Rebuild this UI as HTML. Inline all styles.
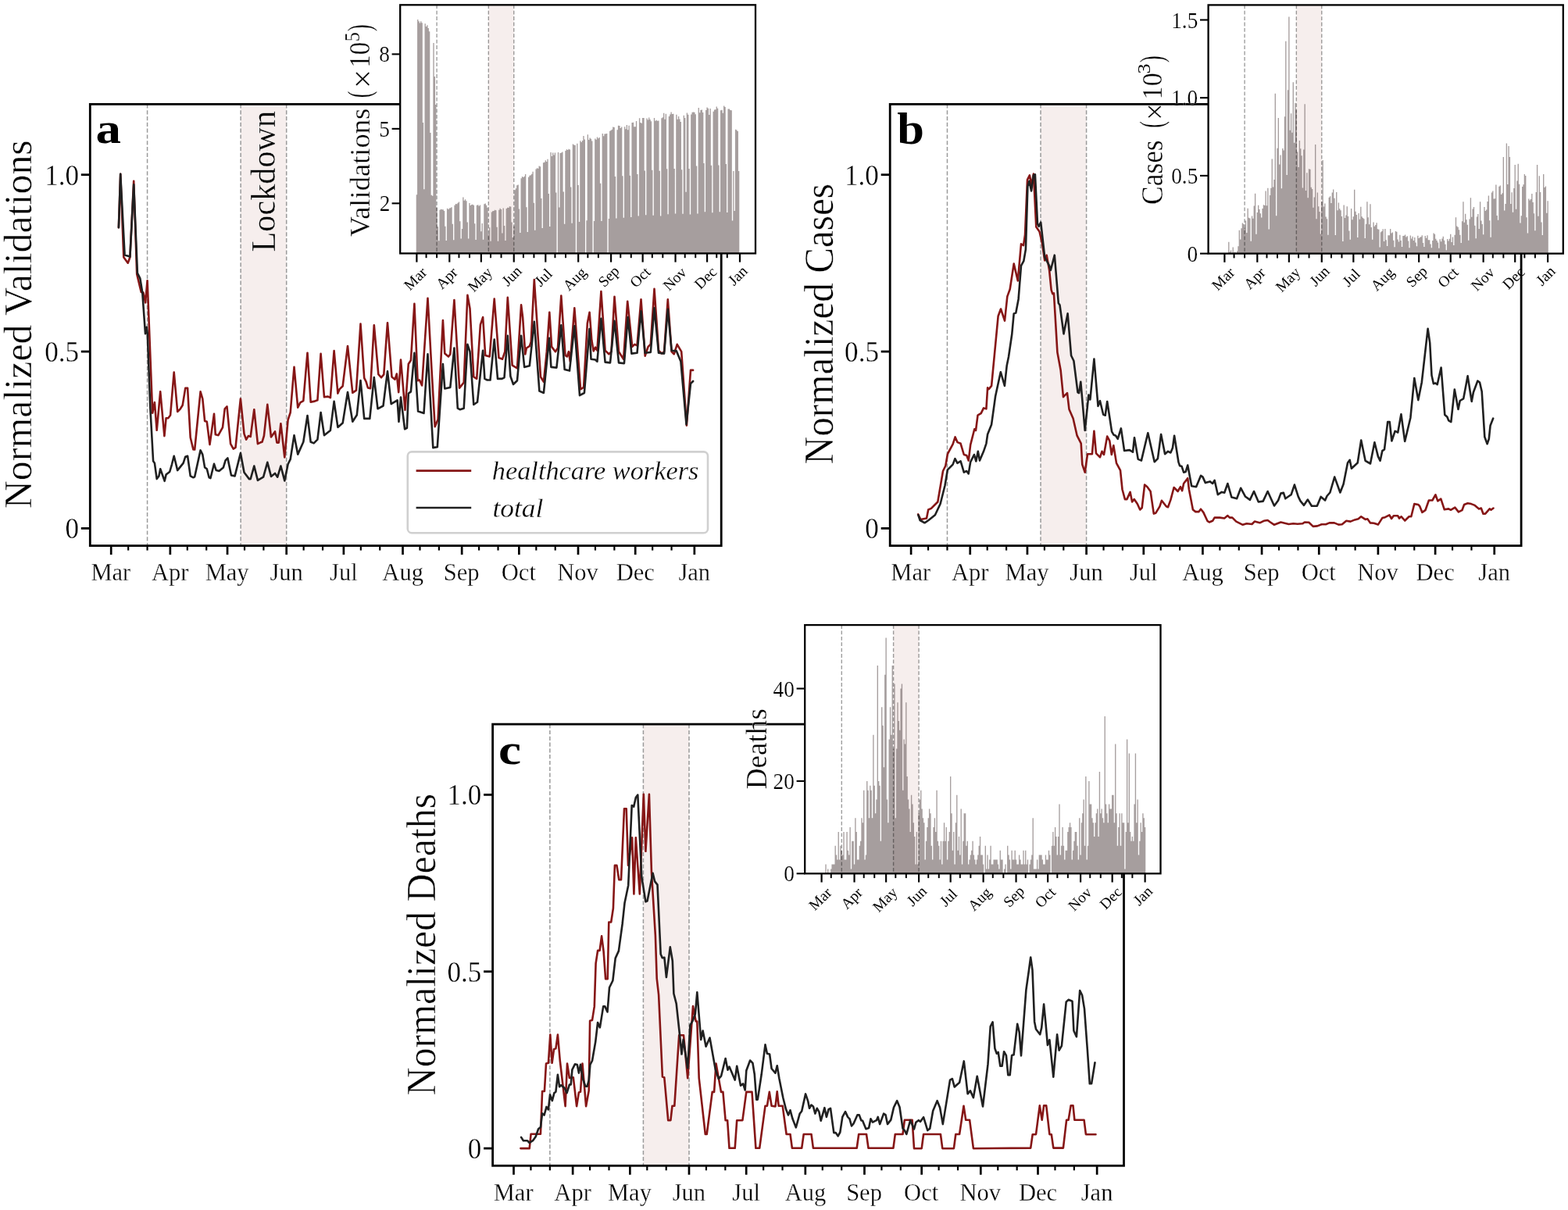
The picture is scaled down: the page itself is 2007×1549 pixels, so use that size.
<!DOCTYPE html>
<html><head><meta charset="utf-8"><title>Figure</title>
<style>
html,body{margin:0;padding:0;background:#fff;}
svg{display:block;}
text{font-family:"Liberation Serif","DejaVu Serif",serif;}
</style></head><body>
<svg width="2007" height="1549" viewBox="0 0 2007 1549">
<rect width="2007" height="1549" fill="#fff"/>
<rect x="308.12" y="133.40" width="58.56" height="565.20" fill="#f6eeed"/>
<line x1="188.56" y1="133.40" x2="188.56" y2="698.60" stroke="#9a9a9a" stroke-width="1.5" stroke-dasharray="5.2,2.6"/>
<line x1="308.12" y1="133.40" x2="308.12" y2="698.60" stroke="#9a9a9a" stroke-width="1.5" stroke-dasharray="5.2,2.6"/>
<line x1="366.68" y1="133.40" x2="366.68" y2="698.60" stroke="#9a9a9a" stroke-width="1.5" stroke-dasharray="5.2,2.6"/>
<text stroke="#fff" stroke-width="0.32" transform="translate(351.55,322.47) rotate(-90) scale(0.9430,1)" font-size="44.82" fill="#000">Lockdown</text>
<line x1="142.20" y1="698.60" x2="142.20" y2="710.10" stroke="#000" stroke-width="2.7"/>
<line x1="217.84" y1="698.60" x2="217.84" y2="710.10" stroke="#000" stroke-width="2.7"/>
<line x1="291.04" y1="698.60" x2="291.04" y2="710.10" stroke="#000" stroke-width="2.7"/>
<line x1="366.68" y1="698.60" x2="366.68" y2="710.10" stroke="#000" stroke-width="2.7"/>
<line x1="439.88" y1="698.60" x2="439.88" y2="710.10" stroke="#000" stroke-width="2.7"/>
<line x1="515.52" y1="698.60" x2="515.52" y2="710.10" stroke="#000" stroke-width="2.7"/>
<line x1="591.16" y1="698.60" x2="591.16" y2="710.10" stroke="#000" stroke-width="2.7"/>
<line x1="664.36" y1="698.60" x2="664.36" y2="710.10" stroke="#000" stroke-width="2.7"/>
<line x1="740.00" y1="698.60" x2="740.00" y2="710.10" stroke="#000" stroke-width="2.7"/>
<line x1="813.20" y1="698.60" x2="813.20" y2="710.10" stroke="#000" stroke-width="2.7"/>
<line x1="888.84" y1="698.60" x2="888.84" y2="710.10" stroke="#000" stroke-width="2.7"/>
<line x1="164.16" y1="698.60" x2="164.16" y2="704.60" stroke="#000" stroke-width="2.2"/>
<line x1="188.56" y1="698.60" x2="188.56" y2="704.60" stroke="#000" stroke-width="2.2"/>
<line x1="239.80" y1="698.60" x2="239.80" y2="704.60" stroke="#000" stroke-width="2.2"/>
<line x1="264.20" y1="698.60" x2="264.20" y2="704.60" stroke="#000" stroke-width="2.2"/>
<line x1="313.00" y1="698.60" x2="313.00" y2="704.60" stroke="#000" stroke-width="2.2"/>
<line x1="337.40" y1="698.60" x2="337.40" y2="704.60" stroke="#000" stroke-width="2.2"/>
<line x1="388.64" y1="698.60" x2="388.64" y2="704.60" stroke="#000" stroke-width="2.2"/>
<line x1="413.04" y1="698.60" x2="413.04" y2="704.60" stroke="#000" stroke-width="2.2"/>
<line x1="461.84" y1="698.60" x2="461.84" y2="704.60" stroke="#000" stroke-width="2.2"/>
<line x1="486.24" y1="698.60" x2="486.24" y2="704.60" stroke="#000" stroke-width="2.2"/>
<line x1="537.48" y1="698.60" x2="537.48" y2="704.60" stroke="#000" stroke-width="2.2"/>
<line x1="561.88" y1="698.60" x2="561.88" y2="704.60" stroke="#000" stroke-width="2.2"/>
<line x1="613.12" y1="698.60" x2="613.12" y2="704.60" stroke="#000" stroke-width="2.2"/>
<line x1="637.52" y1="698.60" x2="637.52" y2="704.60" stroke="#000" stroke-width="2.2"/>
<line x1="686.32" y1="698.60" x2="686.32" y2="704.60" stroke="#000" stroke-width="2.2"/>
<line x1="710.72" y1="698.60" x2="710.72" y2="704.60" stroke="#000" stroke-width="2.2"/>
<line x1="761.96" y1="698.60" x2="761.96" y2="704.60" stroke="#000" stroke-width="2.2"/>
<line x1="786.36" y1="698.60" x2="786.36" y2="704.60" stroke="#000" stroke-width="2.2"/>
<line x1="835.16" y1="698.60" x2="835.16" y2="704.60" stroke="#000" stroke-width="2.2"/>
<line x1="859.56" y1="698.60" x2="859.56" y2="704.60" stroke="#000" stroke-width="2.2"/>
<line x1="103.80" y1="676.40" x2="115.30" y2="676.40" stroke="#000" stroke-width="2.8"/>
<line x1="103.80" y1="450.05" x2="115.30" y2="450.05" stroke="#000" stroke-width="2.8"/>
<line x1="103.80" y1="223.70" x2="115.30" y2="223.70" stroke="#000" stroke-width="2.8"/>
<text stroke="#fff" stroke-width="0.32" transform="translate(116.43,742.90) scale(0.9525,1)" font-size="32.06">Mar</text>
<text stroke="#fff" stroke-width="0.32" transform="translate(194.06,742.90) scale(0.9525,1)" font-size="32.06">Apr</text>
<text stroke="#fff" stroke-width="0.32" transform="translate(262.68,742.90) scale(0.9525,1)" font-size="32.06">May</text>
<text stroke="#fff" stroke-width="0.32" transform="translate(345.38,742.90) scale(0.9525,1)" font-size="32.06">Jun</text>
<text stroke="#fff" stroke-width="0.32" transform="translate(422.05,742.90) scale(0.9525,1)" font-size="32.06">Jul</text>
<text stroke="#fff" stroke-width="0.32" transform="translate(489.37,742.90) scale(0.9525,1)" font-size="32.06">Aug</text>
<text stroke="#fff" stroke-width="0.32" transform="translate(567.84,742.90) scale(0.9525,1)" font-size="32.06">Sep</text>
<text stroke="#fff" stroke-width="0.32" transform="translate(641.80,742.90) scale(0.9525,1)" font-size="32.06">Oct</text>
<text stroke="#fff" stroke-width="0.32" transform="translate(713.24,742.90) scale(0.9525,1)" font-size="32.06">Nov</text>
<text stroke="#fff" stroke-width="0.32" transform="translate(788.66,742.90) scale(0.9525,1)" font-size="32.06">Dec</text>
<text stroke="#fff" stroke-width="0.32" transform="translate(868.42,742.90) scale(0.9525,1)" font-size="32.06">Jan</text>
<text stroke="#fff" stroke-width="0.32" transform="translate(83.40,689.20) scale(0.9435,1)" font-size="37.12">0</text>
<text stroke="#fff" stroke-width="0.32" transform="translate(57.22,462.85) scale(0.9435,1)" font-size="37.12">0.5</text>
<text stroke="#fff" stroke-width="0.32" transform="translate(57.14,236.50) scale(0.9435,1)" font-size="37.12">1.0</text>
<text transform="translate(122.49,183.46) scale(1.1995,1)" font-size="54.17" font-weight="bold" fill="#000">a</text>
<text stroke="#fff" stroke-width="0.5" transform="translate(40.25,651.20) rotate(-90) scale(0.9988,1)" font-size="50.00" fill="#000">Normalized Validations</text>
<polyline points="151.9,291.3 154.2,222.9 158.3,329.2 163.7,336.7 166.4,329.2 171.2,231.7 175.2,350.9 180.7,374.0 183.4,374.6 186.1,387.5 188.6,359.2 195.2,528.8 197.9,515.0 200.7,550.8 205.2,501.3 210.4,558.1 212.6,535.2 215.3,535.2 218.1,531.5 222.7,476.5 227.2,527.0 230.9,523.3 233.7,518.7 237.3,496.7 240.1,496.7 243.7,560.0 247.4,575.5 249.2,575.5 256.6,501.3 259.3,510.5 262.1,538.9 264.8,539.8 268.5,569.1 274.0,529.7 275.8,556.3 279.5,557.2 285.0,547.1 287.7,523.3 290.5,520.5 295.1,568.2 298.7,574.6 301.5,572.8 307.9,510.5 312.5,555.4 315.2,562.7 317.9,558.1 320.7,559.0 325.3,524.2 329.9,568.2 333.1,566.6 335.5,565.8 337.9,558.0 342.3,517.8 347.0,559.5 352.0,552.4 354.4,566.6 356.8,566.6 359.4,542.2 364.3,585.5 368.6,537.5 371.7,528.0 376.5,469.8 381.2,521.7 384.3,515.4 388.3,513.1 393.5,451.7 397.7,514.6 401.7,513.9 406.4,512.3 410.6,452.8 415.0,508.3 419.8,507.6 422.9,509.1 427.6,449.0 432.4,503.6 434.7,498.1 438.7,494.2 445.0,443.0 451.3,502.8 456.0,499.7 461.5,414.6 466.2,483.9 468.6,488.7 470.9,496.5 474.1,497.3 478.8,416.2 484.3,479.2 488.1,483.3 491.3,479.4 496.0,413.2 501.5,482.5 505.5,485.7 507.8,478.6 510.2,502.2 513.0,460.5 518.5,525.0 522.8,466.0 525.9,461.3 530.4,388.8 534.6,487.2 537.0,486.5 540.1,493.5 547.5,381.7 552.7,477.0 556.7,546.3 560.6,536.9 566.9,410.1 569.3,452.6 574.0,456.5 576.3,453.4 581.4,384.1 588.1,496.7 593.7,489.6 598.4,377.8 601.5,395.1 606.3,482.5 610.2,484.9 614.9,415.6 618.1,406.1 621.2,455.0 626.7,456.5 632.7,382.5 638.5,458.1 643.1,459.7 646.3,450.2 649.8,380.9 655.7,467.6 662.0,471.5 667.1,390.4 669.1,406.1 672.3,453.4 673.9,445.5 677.8,443.1 679.7,437.6 683.8,358.1 692.0,482.5 695.9,488.8 699.8,450.2 703.3,399.8 706.1,443.9 710.9,450.2 714.0,445.5 718.3,378.6 723.5,455.0 725.8,456.5 727.9,450.2 729.8,462.8 735.3,394.3 743.1,498.3 747.1,495.9 751.8,414.0 754.6,399.8 757.3,435.3 759.7,449.4 762.0,444.7 764.4,448.7 769.4,373.1 774.6,448.7 779.4,453.4 782.5,450.2 786.5,379.7 792.0,450.2 798.1,459.7 803.2,385.7 809.2,443.9 812.3,440.8 815.5,442.4 820.5,383.3 825.7,455.7 829.6,443.9 832.8,440.8 837.5,369.9 843.0,448.7 847.0,452.6 850.1,450.2 854.8,383.3 859.6,450.2 862.7,453.4 866.7,440.8 872.2,450.2 878.9,544.7 884.0,473.9 887.1,473.9" fill="none" stroke="#861616" stroke-width="2.6" stroke-linejoin="round" stroke-linecap="round"/>
<polyline points="151.9,291.3 154.2,222.9 159.6,326.5 166.4,328.6 171.2,236.4 175.9,349.6 179.3,356.3 182.3,374.8 186.0,427.1 187.8,418.8 188.7,426.1 192.4,523.3 196.1,590.2 197.9,592.9 200.7,613.1 203.4,609.4 205.2,600.3 210.7,615.8 212.6,607.6 217.2,604.0 219.9,594.8 222.7,583.8 227.2,602.1 234.6,592.9 237.3,584.7 240.1,583.8 243.7,609.4 247.4,611.3 249.2,610.3 256.6,576.4 259.3,581.9 262.1,598.4 264.8,600.3 267.6,611.3 269.4,612.2 274.0,593.8 276.7,602.1 280.4,603.0 285.9,598.4 288.6,589.3 291.4,586.5 296.0,608.5 300.6,609.4 307.9,580.1 312.5,604.8 318.9,613.1 320.7,613.1 325.3,596.6 329.9,614.9 337.1,610.7 342.3,591.8 347.0,609.9 352.0,606.0 355.2,610.7 359.4,596.5 364.3,615.4 368.6,594.2 371.7,587.9 376.5,557.2 381.2,581.6 388.3,565.8 393.5,532.0 397.7,565.8 401.7,567.4 406.4,562.7 410.6,528.0 415.0,557.2 422.9,550.9 427.6,513.9 432.4,546.9 438.7,541.4 445.0,502.0 451.3,539.8 456.8,531.2 461.5,487.1 466.2,535.9 473.3,535.9 478.8,483.1 483.5,523.3 490.5,519.5 496.0,475.4 500.7,517.2 508.6,512.4 510.5,540.0 513.0,508.5 518.1,549.4 520.9,547.9 522.8,503.8 525.9,501.4 530.4,451.8 535.1,526.6 542.5,529.0 547.5,453.4 554.3,573.1 559.8,572.3 566.9,466.0 569.3,497.5 576.3,495.9 581.4,445.5 585.8,522.7 588.9,524.3 593.7,522.7 598.4,440.8 601.5,450.2 606.3,518.0 611.0,514.8 618.1,448.7 620.4,484.9 623.6,486.5 627.5,486.5 632.7,434.5 637.0,484.9 642.5,484.9 645.5,483.3 649.8,429.8 653.4,481.7 657.0,492.0 662.0,487.2 667.1,429.8 671.2,469.9 677.8,468.3 683.8,411.7 690.4,500.6 695.9,503.0 703.0,432.9 705.4,469.9 712.4,470.7 718.3,416.4 722.7,473.1 729.0,474.6 735.3,417.2 742.0,506.1 747.9,503.0 754.6,421.1 756.5,459.7 762.0,460.5 764.4,462.8 769.4,407.7 774.6,463.6 781.0,464.4 786.5,410.9 792.0,464.4 798.9,465.2 803.7,406.1 808.4,452.6 815.5,451.8 820.5,398.3 825.7,451.8 832.8,451.0 837.5,394.3 843.0,451.8 850.1,452.6 854.8,395.9 859.6,448.7 865.9,449.4 871.4,462.8 878.5,543.1 884.0,491.2 887.1,488.0" fill="none" stroke="#202020" stroke-width="2.6" stroke-linejoin="round" stroke-linecap="round"/>
<rect x="521.8" y="578.4" width="384.2" height="103.8" rx="5.2" ry="5.2" fill="#fff" fill-opacity="0.8" stroke="#d0d0d0" stroke-width="2.6"/>
<line x1="532.6" y1="602.6" x2="603.2" y2="602.6" stroke="#861616" stroke-width="2.6"/>
<line x1="532.6" y1="650.0" x2="603.2" y2="650.0" stroke="#202020" stroke-width="2.6"/>
<text stroke="#fff" stroke-width="0.32" transform="translate(629.81,614.07) scale(1.0430,1)" font-size="32.91" font-style="italic" fill="#000">healthcare workers</text>
<text stroke="#fff" stroke-width="0.32" transform="translate(630.40,661.97) scale(1.0595,1)" font-size="33.48" font-style="italic" fill="#000">total</text>
<rect x="115.30" y="133.40" width="807.90" height="565.20" fill="none" stroke="#000" stroke-width="2.8"/>
<rect x="512.20" y="6.30" width="454.80" height="318.10" fill="#fff"/>
<rect x="625.31" y="6.30" width="32.44" height="318.10" fill="#f6eeed"/>
<clipPath id="clip140417147333488"><rect x="512.20" y="6.30" width="454.80" height="318.10"/></clipPath>
<path d="M532.72 324.40V249.20h1.35V324.40zM534.08 324.40V25.05h1.35V324.40zM535.43 324.40V27.22h1.35V324.40zM536.78 324.40V29.57h1.35V324.40zM538.13 324.40V27.25h1.35V324.40zM539.48 324.40V29.25h1.35V324.40zM540.83 324.40V156.89h1.35V324.40zM542.19 324.40V242.17h1.35V324.40zM543.54 324.40V30.18h1.35V324.40zM544.89 324.40V33.90h1.35V324.40zM546.24 324.40V32.21h1.35V324.40zM547.59 324.40V36.00h1.35V324.40zM548.94 324.40V40.27h1.35V324.40zM550.29 324.40V169.91h1.35V324.40zM551.65 324.40V249.84h1.35V324.40zM553.00 324.40V250.79h1.35V324.40zM554.35 324.40V55.04h1.35V324.40zM555.70 324.40V98.01h1.35V324.40zM557.05 324.40V133.97h1.35V324.40zM558.40 324.40V266.07h1.35V324.40zM559.76 324.40V290.20h1.35V324.40zM561.11 324.40V308.18h1.35V324.40zM562.46 324.40V268.74h1.35V324.40zM563.81 324.40V267.76h1.35V324.40zM565.16 324.40V268.17h1.35V324.40zM566.51 324.40V268.20h1.35V324.40zM567.87 324.40V269.89h1.35V324.40zM569.22 324.40V289.81h1.35V324.40zM570.57 324.40V308.12h1.35V324.40zM571.92 324.40V266.87h1.35V324.40zM573.27 324.40V268.01h1.35V324.40zM574.62 324.40V266.45h1.35V324.40zM575.98 324.40V266.20h1.35V324.40zM577.33 324.40V265.37h1.35V324.40zM578.68 324.40V286.79h1.35V324.40zM580.03 324.40V307.19h1.35V324.40zM581.38 324.40V262.63h1.35V324.40zM582.73 324.40V261.10h1.35V324.40zM584.09 324.40V261.36h1.35V324.40zM585.44 324.40V259.77h1.35V324.40zM586.79 324.40V258.40h1.35V324.40zM588.14 324.40V283.32h1.35V324.40zM589.49 324.40V305.38h1.35V324.40zM590.84 324.40V292.97h1.35V324.40zM592.19 324.40V252.54h1.35V324.40zM593.55 324.40V256.71h1.35V324.40zM594.90 324.40V255.37h1.35V324.40zM596.25 324.40V257.25h1.35V324.40zM597.60 324.40V284.44h1.35V324.40zM598.95 324.40V305.44h1.35V324.40zM600.30 324.40V260.09h1.35V324.40zM601.66 324.40V263.05h1.35V324.40zM603.01 324.40V262.09h1.35V324.40zM604.36 324.40V261.87h1.35V324.40zM605.71 324.40V262.79h1.35V324.40zM607.06 324.40V286.31h1.35V324.40zM608.41 324.40V306.97h1.35V324.40zM609.77 324.40V262.70h1.35V324.40zM611.12 324.40V262.22h1.35V324.40zM612.47 324.40V263.68h1.35V324.40zM613.82 324.40V262.44h1.35V324.40zM615.17 324.40V296.37h1.35V324.40zM616.52 324.40V285.93h1.35V324.40zM617.88 324.40V306.75h1.35V324.40zM619.23 324.40V261.36h1.35V324.40zM620.58 324.40V260.53h1.35V324.40zM621.93 324.40V262.70h1.35V324.40zM623.28 324.40V265.72h1.35V324.40zM624.63 324.40V300.13h1.35V324.40zM625.98 324.40V291.37h1.35V324.40zM627.34 324.40V308.69h1.35V324.40zM628.69 324.40V271.51h1.35V324.40zM630.04 324.40V270.27h1.35V324.40zM631.39 324.40V269.95h1.35V324.40zM632.74 324.40V268.87h1.35V324.40zM634.09 324.40V269.32h1.35V324.40zM635.45 324.40V290.86h1.35V324.40zM636.80 324.40V308.69h1.35V324.40zM638.15 324.40V268.74h1.35V324.40zM639.50 324.40V266.80h1.35V324.40zM640.85 324.40V267.98h1.35V324.40zM642.20 324.40V298.54h1.35V324.40zM643.56 324.40V266.39h1.35V324.40zM644.91 324.40V288.99h1.35V324.40zM646.26 324.40V307.89h1.35V324.40zM647.61 324.40V266.99h1.35V324.40zM648.96 324.40V265.81h1.35V324.40zM650.31 324.40V265.97h1.35V324.40zM651.66 324.40V264.32h1.35V324.40zM653.02 324.40V264.54h1.35V324.40zM654.37 324.40V284.53h1.35V324.40zM655.72 324.40V304.04h1.35V324.40zM657.07 324.40V289.81h1.35V324.40zM658.42 324.40V243.18h1.35V324.40zM659.77 324.40V241.24h1.35V324.40zM661.13 324.40V237.30h1.35V324.40zM662.48 324.40V236.59h1.35V324.40zM663.83 324.40V267.41h1.35V324.40zM665.18 324.40V297.93h1.35V324.40zM666.53 324.40V228.35h1.35V324.40zM667.88 324.40V226.00h1.35V324.40zM669.24 324.40V227.11h1.35V324.40zM670.59 324.40V225.77h1.35V324.40zM671.94 324.40V222.94h1.35V324.40zM673.29 324.40V265.24h1.35V324.40zM674.64 324.40V297.01h1.35V324.40zM675.99 324.40V226.63h1.35V324.40zM677.35 324.40V224.69h1.35V324.40zM678.70 324.40V224.18h1.35V324.40zM680.05 324.40V222.72h1.35V324.40zM681.40 324.40V219.82h1.35V324.40zM682.75 324.40V259.70h1.35V324.40zM684.10 324.40V294.75h1.35V324.40zM685.45 324.40V216.54h1.35V324.40zM686.81 324.40V215.21h1.35V324.40zM688.16 324.40V215.87h1.35V324.40zM689.51 324.40V212.56h1.35V324.40zM690.86 324.40V213.30h1.35V324.40zM692.21 324.40V253.91h1.35V324.40zM693.56 324.40V291.88h1.35V324.40zM694.92 324.40V208.30h1.35V324.40zM696.27 324.40V207.82h1.35V324.40zM697.62 324.40V205.31h1.35V324.40zM698.97 324.40V207.02h1.35V324.40zM700.32 324.40V203.81h1.35V324.40zM701.67 324.40V247.99h1.35V324.40zM703.03 324.40V289.94h1.35V324.40zM704.38 324.40V195.06h1.35V324.40zM705.73 324.40V200.12h1.35V324.40zM707.08 324.40V195.41h1.35V324.40zM708.43 324.40V198.56h1.35V324.40zM709.78 324.40V195.57h1.35V324.40zM711.14 324.40V246.46h1.35V324.40zM713.84 324.40V194.93h1.35V324.40zM715.19 324.40V265.40h1.35V324.40zM716.54 324.40V195.88h1.35V324.40zM717.89 324.40V195.53h1.35V324.40zM719.25 324.40V194.55h1.35V324.40zM720.60 324.40V245.54h1.35V324.40zM721.95 324.40V286.63h1.35V324.40zM723.30 324.40V192.99h1.35V324.40zM724.65 324.40V191.24h1.35V324.40zM726.00 324.40V191.94h1.35V324.40zM727.35 324.40V190.86h1.35V324.40zM728.71 324.40V191.40h1.35V324.40zM730.06 324.40V239.49h1.35V324.40zM731.41 324.40V285.80h1.35V324.40zM732.76 324.40V184.49h1.35V324.40zM734.11 324.40V185.48h1.35V324.40zM735.46 324.40V185.95h1.35V324.40zM738.17 324.40V183.69h1.35V324.40zM739.52 324.40V237.07h1.35V324.40zM740.87 324.40V284.05h1.35V324.40zM742.22 324.40V180.13h1.35V324.40zM743.57 324.40V181.91h1.35V324.40zM744.93 324.40V180.06h1.35V324.40zM746.28 324.40V174.08h1.35V324.40zM747.63 324.40V178.60h1.35V324.40zM750.33 324.40V282.33h1.35V324.40zM751.68 324.40V172.20h1.35V324.40zM753.03 324.40V178.92h1.35V324.40zM754.39 324.40V176.47h1.35V324.40zM755.74 324.40V177.71h1.35V324.40zM757.09 324.40V180.51h1.35V324.40zM759.79 324.40V282.94h1.35V324.40zM761.14 324.40V177.42h1.35V324.40zM762.50 324.40V178.73h1.35V324.40zM763.85 324.40V175.58h1.35V324.40zM765.20 324.40V177.26h1.35V324.40zM766.55 324.40V175.90h1.35V324.40zM767.90 324.40V234.69h1.35V324.40zM769.25 324.40V282.94h1.35V324.40zM770.61 324.40V171.09h1.35V324.40zM771.96 324.40V174.24h1.35V324.40zM773.31 324.40V171.41h1.35V324.40zM774.66 324.40V171.15h1.35V324.40zM776.01 324.40V171.09h1.35V324.40zM778.72 324.40V279.92h1.35V324.40zM780.07 324.40V167.78h1.35V324.40zM781.42 324.40V166.86h1.35V324.40zM782.77 324.40V165.84h1.35V324.40zM784.12 324.40V162.49h1.35V324.40zM785.47 324.40V163.10h1.35V324.40zM786.83 324.40V225.90h1.35V324.40zM788.18 324.40V279.44h1.35V324.40zM789.53 324.40V166.28h1.35V324.40zM790.88 324.40V160.87h1.35V324.40zM792.23 324.40V161.06h1.35V324.40zM793.58 324.40V163.96h1.35V324.40zM794.93 324.40V162.56h1.35V324.40zM796.29 324.40V225.30h1.35V324.40zM797.64 324.40V278.74h1.35V324.40zM798.99 324.40V162.34h1.35V324.40zM800.34 324.40V165.20h1.35V324.40zM801.69 324.40V160.08h1.35V324.40zM803.04 324.40V166.31h1.35V324.40zM804.40 324.40V160.81h1.35V324.40zM805.75 324.40V224.75h1.35V324.40zM807.10 324.40V278.07h1.35V324.40zM808.45 324.40V157.08h1.35V324.40zM809.80 324.40V156.83h1.35V324.40zM811.15 324.40V162.14h1.35V324.40zM812.51 324.40V162.34h1.35V324.40zM813.86 324.40V154.89h1.35V324.40zM815.21 324.40V222.94h1.35V324.40zM816.56 324.40V276.57h1.35V324.40zM817.91 324.40V151.23h1.35V324.40zM819.26 324.40V157.02h1.35V324.40zM820.62 324.40V157.66h1.35V324.40zM821.97 324.40V150.94h1.35V324.40zM823.32 324.40V150.91h1.35V324.40zM824.67 324.40V218.52h1.35V324.40zM826.02 324.40V275.20h1.35V324.40zM827.37 324.40V151.51h1.35V324.40zM828.72 324.40V153.61h1.35V324.40zM830.08 324.40V150.49h1.35V324.40zM831.43 324.40V153.01h1.35V324.40zM832.78 324.40V155.17h1.35V324.40zM834.13 324.40V217.85h1.35V324.40zM835.48 324.40V275.81h1.35V324.40zM836.83 324.40V151.07h1.35V324.40zM838.19 324.40V154.66h1.35V324.40zM839.54 324.40V153.80h1.35V324.40zM840.89 324.40V154.70h1.35V324.40zM842.24 324.40V154.41h1.35V324.40zM843.59 324.40V218.83h1.35V324.40zM844.94 324.40V276.45h1.35V324.40zM846.30 324.40V151.19h1.35V324.40zM847.65 324.40V150.24h1.35V324.40zM849.00 324.40V144.83h1.35V324.40zM850.35 324.40V152.79h1.35V324.40zM851.70 324.40V145.78h1.35V324.40zM853.05 324.40V216.26h1.35V324.40zM854.40 324.40V274.22h1.35V324.40zM855.76 324.40V149.00h1.35V324.40zM857.11 324.40V146.58h1.35V324.40zM858.46 324.40V143.59h1.35V324.40zM859.81 324.40V146.01h1.35V324.40zM861.16 324.40V145.82h1.35V324.40zM862.51 324.40V216.03h1.35V324.40zM863.87 324.40V273.42h1.35V324.40zM865.22 324.40V146.77h1.35V324.40zM866.57 324.40V152.72h1.35V324.40zM867.92 324.40V148.90h1.35V324.40zM869.27 324.40V152.47h1.35V324.40zM870.62 324.40V156.03h1.35V324.40zM871.98 324.40V217.27h1.35V324.40zM873.33 324.40V273.68h1.35V324.40zM874.68 324.40V147.85h1.35V324.40zM876.03 324.40V150.91h1.35V324.40zM877.38 324.40V245.76h1.35V324.40zM878.73 324.40V144.45h1.35V324.40zM880.09 324.40V146.83h1.35V324.40zM881.44 324.40V216.00h1.35V324.40zM882.79 324.40V274.44h1.35V324.40zM884.14 324.40V146.61h1.35V324.40zM885.49 324.40V143.75h1.35V324.40zM886.84 324.40V143.59h1.35V324.40zM888.19 324.40V143.68h1.35V324.40zM889.55 324.40V146.26h1.35V324.40zM890.90 324.40V212.50h1.35V324.40zM892.25 324.40V273.52h1.35V324.40zM893.60 324.40V137.99h1.35V324.40zM894.95 324.40V144.29h1.35V324.40zM896.30 324.40V140.98h1.35V324.40zM897.66 324.40V140.44h1.35V324.40zM899.01 324.40V143.91h1.35V324.40zM900.36 324.40V208.90h1.35V324.40zM901.71 324.40V271.32h1.35V324.40zM903.06 324.40V140.98h1.35V324.40zM904.41 324.40V137.57h1.35V324.40zM905.77 324.40V138.65h1.35V324.40zM907.12 324.40V146.93h1.35V324.40zM908.47 324.40V139.00h1.35V324.40zM909.82 324.40V211.67h1.35V324.40zM911.17 324.40V272.34h1.35V324.40zM912.52 324.40V142.70h1.35V324.40zM913.88 324.40V140.44h1.35V324.40zM915.23 324.40V140.18h1.35V324.40zM916.58 324.40V136.43h1.35V324.40zM917.93 324.40V138.78h1.35V324.40zM919.28 324.40V211.58h1.35V324.40zM920.63 324.40V271.23h1.35V324.40zM921.98 324.40V141.23h1.35V324.40zM923.34 324.40V140.79h1.35V324.40zM924.69 324.40V144.73h1.35V324.40zM926.04 324.40V135.38h1.35V324.40zM927.39 324.40V137.03h1.35V324.40zM928.74 324.40V210.05h1.35V324.40zM930.09 324.40V271.89h1.35V324.40zM931.45 324.40V139.39h1.35V324.40zM932.80 324.40V139.42h1.35V324.40zM934.15 324.40V141.04h1.35V324.40zM935.50 324.40V141.23h1.35V324.40zM936.85 324.40V282.62h1.35V324.40zM938.20 324.40V218.96h1.35V324.40zM939.56 324.40V269.89h1.35V324.40zM940.91 324.40V165.80h1.35V324.40zM942.26 324.40V166.44h1.35V324.40zM943.61 324.40V168.03h1.35V324.40zM944.96 324.40V218.96h1.35V324.40z" fill="#6a5e5e" fill-opacity="0.6" clip-path="url(#clip140417147333488)"/>
<line x1="559.08" y1="6.30" x2="559.08" y2="324.40" stroke="#000" stroke-opacity="0.38" stroke-width="1.4" stroke-dasharray="4.8,2.6"/>
<line x1="625.31" y1="6.30" x2="625.31" y2="324.40" stroke="#000" stroke-opacity="0.38" stroke-width="1.4" stroke-dasharray="4.8,2.6"/>
<line x1="657.75" y1="6.30" x2="657.75" y2="324.40" stroke="#000" stroke-opacity="0.38" stroke-width="1.4" stroke-dasharray="4.8,2.6"/>
<rect x="512.20" y="6.30" width="454.80" height="318.10" fill="none" stroke="#000" stroke-width="2.3"/>
<line x1="533.40" y1="324.40" x2="533.40" y2="335.60" stroke="#000" stroke-width="2.2"/>
<line x1="575.30" y1="324.40" x2="575.30" y2="335.60" stroke="#000" stroke-width="2.2"/>
<line x1="615.85" y1="324.40" x2="615.85" y2="335.60" stroke="#000" stroke-width="2.2"/>
<line x1="657.75" y1="324.40" x2="657.75" y2="335.60" stroke="#000" stroke-width="2.2"/>
<line x1="698.30" y1="324.40" x2="698.30" y2="335.60" stroke="#000" stroke-width="2.2"/>
<line x1="740.19" y1="324.40" x2="740.19" y2="335.60" stroke="#000" stroke-width="2.2"/>
<line x1="782.09" y1="324.40" x2="782.09" y2="335.60" stroke="#000" stroke-width="2.2"/>
<line x1="822.64" y1="324.40" x2="822.64" y2="335.60" stroke="#000" stroke-width="2.2"/>
<line x1="864.54" y1="324.40" x2="864.54" y2="335.60" stroke="#000" stroke-width="2.2"/>
<line x1="905.09" y1="324.40" x2="905.09" y2="335.60" stroke="#000" stroke-width="2.2"/>
<line x1="946.99" y1="324.40" x2="946.99" y2="335.60" stroke="#000" stroke-width="2.2"/>
<line x1="545.56" y1="324.40" x2="545.56" y2="330.20" stroke="#000" stroke-width="2.0"/>
<line x1="559.08" y1="324.40" x2="559.08" y2="330.20" stroke="#000" stroke-width="2.0"/>
<line x1="587.46" y1="324.40" x2="587.46" y2="330.20" stroke="#000" stroke-width="2.0"/>
<line x1="600.98" y1="324.40" x2="600.98" y2="330.20" stroke="#000" stroke-width="2.0"/>
<line x1="628.01" y1="324.40" x2="628.01" y2="330.20" stroke="#000" stroke-width="2.0"/>
<line x1="641.53" y1="324.40" x2="641.53" y2="330.20" stroke="#000" stroke-width="2.0"/>
<line x1="669.91" y1="324.40" x2="669.91" y2="330.20" stroke="#000" stroke-width="2.0"/>
<line x1="683.43" y1="324.40" x2="683.43" y2="330.20" stroke="#000" stroke-width="2.0"/>
<line x1="710.46" y1="324.40" x2="710.46" y2="330.20" stroke="#000" stroke-width="2.0"/>
<line x1="723.98" y1="324.40" x2="723.98" y2="330.20" stroke="#000" stroke-width="2.0"/>
<line x1="752.36" y1="324.40" x2="752.36" y2="330.20" stroke="#000" stroke-width="2.0"/>
<line x1="765.88" y1="324.40" x2="765.88" y2="330.20" stroke="#000" stroke-width="2.0"/>
<line x1="794.26" y1="324.40" x2="794.26" y2="330.20" stroke="#000" stroke-width="2.0"/>
<line x1="807.77" y1="324.40" x2="807.77" y2="330.20" stroke="#000" stroke-width="2.0"/>
<line x1="834.81" y1="324.40" x2="834.81" y2="330.20" stroke="#000" stroke-width="2.0"/>
<line x1="848.32" y1="324.40" x2="848.32" y2="330.20" stroke="#000" stroke-width="2.0"/>
<line x1="876.71" y1="324.40" x2="876.71" y2="330.20" stroke="#000" stroke-width="2.0"/>
<line x1="890.22" y1="324.40" x2="890.22" y2="330.20" stroke="#000" stroke-width="2.0"/>
<line x1="917.25" y1="324.40" x2="917.25" y2="330.20" stroke="#000" stroke-width="2.0"/>
<line x1="930.77" y1="324.40" x2="930.77" y2="330.20" stroke="#000" stroke-width="2.0"/>
<text transform="translate(524.86,372.70) rotate(-45)" font-size="19.30" fill="#000">Mar</text>
<text transform="translate(565.70,371.20) rotate(-45)" font-size="19.30" fill="#000">Apr</text>
<text transform="translate(606.44,374.82) rotate(-45)" font-size="19.30" fill="#000">May</text>
<text transform="translate(649.96,367.20) rotate(-45)" font-size="19.30" fill="#000">Jun</text>
<text transform="translate(692.01,367.70) rotate(-45)" font-size="19.30" fill="#000">Jul</text>
<text transform="translate(728.22,373.32) rotate(-45)" font-size="19.30" fill="#000">Aug</text>
<text transform="translate(773.49,368.57) rotate(-45)" font-size="19.30" fill="#000">Sep</text>
<text transform="translate(813.98,369.32) rotate(-45)" font-size="19.30" fill="#000">Oct</text>
<text transform="translate(856.44,373.32) rotate(-45)" font-size="19.30" fill="#000">Nov</text>
<text transform="translate(896.61,371.32) rotate(-45)" font-size="19.30" fill="#000">Dec</text>
<text transform="translate(939.58,366.45) rotate(-45)" font-size="19.30" fill="#000">Jan</text>
<line x1="501.60" y1="260.34" x2="512.20" y2="260.34" stroke="#000" stroke-width="2.1"/>
<text stroke="#fff" stroke-width="0.2" transform="translate(485.65,270.34) scale(0.94,1)" font-size="29.04">2</text>
<line x1="501.60" y1="164.85" x2="512.20" y2="164.85" stroke="#000" stroke-width="2.1"/>
<text stroke="#fff" stroke-width="0.2" transform="translate(485.24,174.85) scale(0.94,1)" font-size="29.04">5</text>
<line x1="501.60" y1="69.36" x2="512.20" y2="69.36" stroke="#000" stroke-width="2.1"/>
<text stroke="#fff" stroke-width="0.2" transform="translate(485.18,79.36) scale(0.94,1)" font-size="29.04">8</text>
<text stroke="#fff" stroke-width="0.32" transform="translate(473.16,303.17) rotate(-90) scale(1.0089,1)" font-size="36.20" fill="#000">Validations</text>
<text stroke="#fff" stroke-width="0.2" transform="translate(473.84,125.19) rotate(-90) scale(1,1.5851)" font-size="26.00" fill="#000">(</text>
<text stroke="#fff" stroke-width="0.32" transform="translate(478.55,113.28) rotate(-90) scale(1.0000,1)" font-size="43.46" fill="#000">×</text>
<text stroke="#fff" stroke-width="0.32" transform="translate(473.43,86.69) rotate(-90) scale(0.8847,1)" font-size="37.33" fill="#000">10</text>
<text stroke="#fff" stroke-width="0.2" transform="translate(460.44,53.27) rotate(-90) scale(0.9012,1)" font-size="26.47" fill="#000">5</text>
<text stroke="#fff" stroke-width="0.2" transform="translate(473.84,39.99) rotate(-90) scale(1,1.5851)" font-size="26.00" fill="#000">)</text>
<rect x="1332.02" y="133.40" width="58.56" height="565.20" fill="#f6eeed"/>
<line x1="1212.46" y1="133.40" x2="1212.46" y2="698.60" stroke="#9a9a9a" stroke-width="1.5" stroke-dasharray="5.2,2.6"/>
<line x1="1332.02" y1="133.40" x2="1332.02" y2="698.60" stroke="#9a9a9a" stroke-width="1.5" stroke-dasharray="5.2,2.6"/>
<line x1="1390.58" y1="133.40" x2="1390.58" y2="698.60" stroke="#9a9a9a" stroke-width="1.5" stroke-dasharray="5.2,2.6"/>
<line x1="1166.10" y1="698.60" x2="1166.10" y2="710.10" stroke="#000" stroke-width="2.7"/>
<line x1="1241.74" y1="698.60" x2="1241.74" y2="710.10" stroke="#000" stroke-width="2.7"/>
<line x1="1314.94" y1="698.60" x2="1314.94" y2="710.10" stroke="#000" stroke-width="2.7"/>
<line x1="1390.58" y1="698.60" x2="1390.58" y2="710.10" stroke="#000" stroke-width="2.7"/>
<line x1="1463.78" y1="698.60" x2="1463.78" y2="710.10" stroke="#000" stroke-width="2.7"/>
<line x1="1539.42" y1="698.60" x2="1539.42" y2="710.10" stroke="#000" stroke-width="2.7"/>
<line x1="1615.06" y1="698.60" x2="1615.06" y2="710.10" stroke="#000" stroke-width="2.7"/>
<line x1="1688.26" y1="698.60" x2="1688.26" y2="710.10" stroke="#000" stroke-width="2.7"/>
<line x1="1763.90" y1="698.60" x2="1763.90" y2="710.10" stroke="#000" stroke-width="2.7"/>
<line x1="1837.10" y1="698.60" x2="1837.10" y2="710.10" stroke="#000" stroke-width="2.7"/>
<line x1="1912.74" y1="698.60" x2="1912.74" y2="710.10" stroke="#000" stroke-width="2.7"/>
<line x1="1188.06" y1="698.60" x2="1188.06" y2="704.60" stroke="#000" stroke-width="2.2"/>
<line x1="1212.46" y1="698.60" x2="1212.46" y2="704.60" stroke="#000" stroke-width="2.2"/>
<line x1="1263.70" y1="698.60" x2="1263.70" y2="704.60" stroke="#000" stroke-width="2.2"/>
<line x1="1288.10" y1="698.60" x2="1288.10" y2="704.60" stroke="#000" stroke-width="2.2"/>
<line x1="1336.90" y1="698.60" x2="1336.90" y2="704.60" stroke="#000" stroke-width="2.2"/>
<line x1="1361.30" y1="698.60" x2="1361.30" y2="704.60" stroke="#000" stroke-width="2.2"/>
<line x1="1412.54" y1="698.60" x2="1412.54" y2="704.60" stroke="#000" stroke-width="2.2"/>
<line x1="1436.94" y1="698.60" x2="1436.94" y2="704.60" stroke="#000" stroke-width="2.2"/>
<line x1="1485.74" y1="698.60" x2="1485.74" y2="704.60" stroke="#000" stroke-width="2.2"/>
<line x1="1510.14" y1="698.60" x2="1510.14" y2="704.60" stroke="#000" stroke-width="2.2"/>
<line x1="1561.38" y1="698.60" x2="1561.38" y2="704.60" stroke="#000" stroke-width="2.2"/>
<line x1="1585.78" y1="698.60" x2="1585.78" y2="704.60" stroke="#000" stroke-width="2.2"/>
<line x1="1637.02" y1="698.60" x2="1637.02" y2="704.60" stroke="#000" stroke-width="2.2"/>
<line x1="1661.42" y1="698.60" x2="1661.42" y2="704.60" stroke="#000" stroke-width="2.2"/>
<line x1="1710.22" y1="698.60" x2="1710.22" y2="704.60" stroke="#000" stroke-width="2.2"/>
<line x1="1734.62" y1="698.60" x2="1734.62" y2="704.60" stroke="#000" stroke-width="2.2"/>
<line x1="1785.86" y1="698.60" x2="1785.86" y2="704.60" stroke="#000" stroke-width="2.2"/>
<line x1="1810.26" y1="698.60" x2="1810.26" y2="704.60" stroke="#000" stroke-width="2.2"/>
<line x1="1859.06" y1="698.60" x2="1859.06" y2="704.60" stroke="#000" stroke-width="2.2"/>
<line x1="1883.46" y1="698.60" x2="1883.46" y2="704.60" stroke="#000" stroke-width="2.2"/>
<line x1="1127.70" y1="676.40" x2="1139.20" y2="676.40" stroke="#000" stroke-width="2.8"/>
<line x1="1127.70" y1="450.05" x2="1139.20" y2="450.05" stroke="#000" stroke-width="2.8"/>
<line x1="1127.70" y1="223.70" x2="1139.20" y2="223.70" stroke="#000" stroke-width="2.8"/>
<text stroke="#fff" stroke-width="0.32" transform="translate(1140.33,742.90) scale(0.9525,1)" font-size="32.06">Mar</text>
<text stroke="#fff" stroke-width="0.32" transform="translate(1217.96,742.90) scale(0.9525,1)" font-size="32.06">Apr</text>
<text stroke="#fff" stroke-width="0.32" transform="translate(1286.58,742.90) scale(0.9525,1)" font-size="32.06">May</text>
<text stroke="#fff" stroke-width="0.32" transform="translate(1369.28,742.90) scale(0.9525,1)" font-size="32.06">Jun</text>
<text stroke="#fff" stroke-width="0.32" transform="translate(1445.95,742.90) scale(0.9525,1)" font-size="32.06">Jul</text>
<text stroke="#fff" stroke-width="0.32" transform="translate(1513.27,742.90) scale(0.9525,1)" font-size="32.06">Aug</text>
<text stroke="#fff" stroke-width="0.32" transform="translate(1591.74,742.90) scale(0.9525,1)" font-size="32.06">Sep</text>
<text stroke="#fff" stroke-width="0.32" transform="translate(1665.70,742.90) scale(0.9525,1)" font-size="32.06">Oct</text>
<text stroke="#fff" stroke-width="0.32" transform="translate(1737.14,742.90) scale(0.9525,1)" font-size="32.06">Nov</text>
<text stroke="#fff" stroke-width="0.32" transform="translate(1812.56,742.90) scale(0.9525,1)" font-size="32.06">Dec</text>
<text stroke="#fff" stroke-width="0.32" transform="translate(1892.32,742.90) scale(0.9525,1)" font-size="32.06">Jan</text>
<text stroke="#fff" stroke-width="0.32" transform="translate(1107.30,689.20) scale(0.9435,1)" font-size="37.12">0</text>
<text stroke="#fff" stroke-width="0.32" transform="translate(1081.12,462.85) scale(0.9435,1)" font-size="37.12">0.5</text>
<text stroke="#fff" stroke-width="0.32" transform="translate(1081.04,236.50) scale(0.9435,1)" font-size="37.12">1.0</text>
<text transform="translate(1148.32,183.54) scale(1.1153,1)" font-size="56.03" font-weight="bold" fill="#000">b</text>
<text stroke="#fff" stroke-width="0.5" transform="translate(1066.48,594.38) rotate(-90) scale(0.9452,1)" font-size="52.06" fill="#000">Normalized Cases</text>
<polyline points="1175.1,658.4 1178.4,665.1 1186.0,663.5 1188.2,652.5 1191.9,650.9 1200.3,642.5 1207.0,603.0 1210.3,596.3 1212.9,581.2 1219.6,568.6 1222.6,559.4 1225.4,566.1 1229.6,567.8 1233.8,582.0 1237.2,582.9 1239.7,589.6 1242.2,569.4 1247.3,549.3 1249.0,551.0 1251.5,531.7 1255.7,529.1 1259.0,522.4 1262.4,523.3 1264.1,496.4 1265.7,498.1 1269.1,493.9 1277.6,404.8 1281.0,395.5 1286.0,410.6 1289.3,379.6 1292.7,370.3 1297.7,337.6 1302.8,359.4 1307.0,312.4 1310.0,314.1 1312.0,300.7 1315.0,230.1 1317.9,224.3 1320.4,236.9 1322.9,222.6 1326.3,290.6 1330.5,296.5 1333.8,310.7 1337.2,333.4 1339.7,326.7 1343.1,346.0 1345.6,371.2 1347.3,376.2 1348.9,375.4 1353.4,451.1 1357.6,473.7 1361.0,508.1 1366.0,503.1 1368.5,524.1 1373.6,535.8 1378.6,557.7 1383.7,567.7 1385.3,594.6 1388.7,604.7 1392.0,581.2 1397.9,581.2 1400.4,551.8 1403.0,580.3 1408.0,585.4 1410.5,577.8 1413.0,582.0 1417.2,558.5 1420.3,564.4 1422.8,582.0 1425.3,570.3 1429.0,592.9 1434.0,602.2 1436.5,626.5 1439.9,639.1 1442.4,639.1 1446.6,629.9 1449.1,642.5 1451.7,639.1 1455.8,645.0 1459.2,652.5 1461.7,650.0 1465.1,620.6 1468.4,623.2 1472.6,629.0 1476.8,657.6 1479.4,656.7 1484.4,648.3 1486.9,640.8 1492.8,648.3 1495.0,649.2 1498.4,639.9 1502.6,624.0 1507.6,629.0 1511.0,623.2 1513.1,628.2 1515.1,619.0 1520.2,612.2 1521.9,626.5 1526.9,652.5 1530.3,655.1 1534.5,655.1 1537.0,651.7 1540.3,655.9 1545.4,666.8 1547.9,668.5 1552.1,666.8 1554.6,662.6 1561.3,662.6 1567.2,663.5 1571.4,660.1 1573.9,662.6 1577.3,662.6 1582.3,667.6 1590.7,671.8 1595.7,670.2 1602.5,671.0 1605.8,667.6 1612.5,669.3 1617.6,666.8 1622.6,666.0 1626.0,668.5 1631.0,671.8 1639.4,668.5 1649.5,671.0 1655.4,670.3 1660.8,670.7 1667.2,670.3 1669.9,668.5 1675.3,668.8 1680.7,673.9 1686.2,673.4 1691.6,671.2 1697.0,671.2 1701.5,669.4 1707.9,669.4 1713.3,671.6 1717.8,671.2 1723.2,666.7 1728.6,667.6 1734.1,665.4 1738.6,664.3 1742.2,661.3 1747.6,664.9 1750.3,664.3 1754.0,669.4 1758.5,669.7 1763.9,671.6 1769.3,663.1 1772.9,662.2 1778.4,659.4 1781.1,664.0 1783.8,660.3 1789.2,660.3 1791.0,663.6 1793.7,661.3 1798.2,666.5 1803.6,661.3 1806.3,661.3 1810.3,645.1 1815.3,646.0 1817.1,647.8 1820.4,655.9 1824.4,653.2 1828.9,640.5 1833.4,640.5 1837.4,633.3 1840.3,641.4 1844.3,638.7 1848.8,652.3 1854.2,651.4 1856.9,652.8 1862.3,649.6 1866.9,655.4 1871.4,653.2 1874.1,646.0 1878.6,644.2 1883.1,645.1 1887.7,646.9 1893.1,651.4 1895.8,650.5 1898.5,657.7 1901.2,657.7 1906.7,651.4 1908.5,652.8 1911.5,650.5" fill="none" stroke="#861616" stroke-width="2.6" stroke-linejoin="round" stroke-linecap="round"/>
<polyline points="1175.4,659.3 1177.6,666.0 1183.5,669.3 1188.5,666.0 1196.9,659.3 1203.6,645.0 1209.5,621.5 1212.9,601.3 1215.4,598.8 1219.6,594.6 1222.4,587.1 1225.4,592.9 1229.6,590.4 1233.8,604.7 1237.2,603.0 1239.7,606.4 1242.2,591.3 1246.9,582.0 1249.3,590.4 1251.8,577.8 1254.0,589.6 1259.0,577.8 1262.4,567.8 1264.1,556.0 1269.1,543.4 1274.1,507.3 1280.8,476.2 1285.9,493.9 1288.7,467.9 1291.0,456.8 1295.2,428.3 1297.7,401.4 1300.3,400.6 1303.6,382.9 1307.0,340.1 1310.3,334.2 1312.9,319.1 1315.4,238.5 1317.4,231.8 1320.1,244.4 1322.9,224.3 1324.9,223.4 1328.0,286.4 1329.6,289.8 1332.2,284.7 1337.2,329.2 1343.1,340.1 1344.8,346.0 1349.8,326.7 1354.8,388.0 1356.5,390.5 1361.5,427.4 1366.6,401.4 1371.1,455.3 1374.4,462.0 1379.5,502.3 1381.1,503.1 1383.3,488.8 1388.7,551.0 1393.4,505.6 1395.4,511.5 1400.4,459.5 1405.5,519.9 1408.0,513.2 1412.2,530.8 1414.7,531.7 1417.2,514.0 1423.1,552.6 1425.6,556.8 1428.1,557.7 1430.7,561.9 1434.9,548.4 1439.1,577.0 1445.8,576.1 1450.0,578.7 1452.0,560.2 1456.7,587.9 1460.9,589.6 1469.3,554.3 1477.7,591.3 1481.9,587.1 1486.1,556.0 1491.1,581.2 1495.0,577.8 1498.4,579.5 1500.9,573.6 1503.1,557.7 1508.4,591.3 1510.1,596.3 1512.6,597.1 1515.1,604.7 1517.7,603.9 1520.2,595.5 1525.2,622.3 1531.1,623.2 1537.0,608.9 1539.5,610.6 1542.9,618.1 1548.7,616.4 1552.1,619.0 1554.6,614.8 1558.8,633.2 1563.8,629.9 1567.2,630.7 1571.4,619.0 1576.4,636.6 1583.1,638.3 1588.2,624.8 1594.1,635.8 1599.9,639.9 1605.0,629.0 1610.8,642.5 1616.7,641.6 1622.6,629.0 1631.0,647.5 1636.0,640.8 1639.4,631.6 1642.8,630.7 1645.3,638.3 1650.0,635.0 1652.7,633.2 1656.9,620.6 1661.8,635.9 1664.5,641.4 1669.0,646.8 1673.9,639.6 1678.9,647.7 1685.8,647.7 1690.7,635.9 1696.1,640.5 1698.5,635.0 1702.4,630.5 1708.2,610.6 1715.4,630.5 1719.6,619.7 1725.0,592.5 1727.7,588.9 1729.9,599.8 1737.7,592.5 1742.2,563.6 1747.6,589.8 1754.0,593.5 1759.4,566.3 1763.9,584.4 1766.6,589.8 1769.3,577.2 1772.0,575.4 1776.2,540.1 1778.7,540.1 1781.4,564.5 1785.6,551.9 1789.2,553.7 1793.4,530.2 1798.2,565.0 1805.4,534.7 1810.3,484.1 1815.3,512.1 1819.8,489.5 1827.6,420.8 1830.2,438.9 1832.5,480.5 1834.9,491.3 1837.4,490.4 1839.7,492.2 1844.6,470.5 1849.3,531.1 1852.4,533.8 1854.2,538.4 1857.3,540.2 1861.8,498.6 1866.5,523.9 1868.7,513.0 1873.2,510.3 1878.6,481.4 1883.7,513.9 1885.9,502.2 1891.3,487.7 1894.0,489.5 1896.7,501.3 1900.3,559.2 1903.6,568.2 1905.8,561.9 1907.6,544.7 1911.2,535.6" fill="none" stroke="#202020" stroke-width="2.6" stroke-linejoin="round" stroke-linecap="round"/>
<rect x="1139.20" y="133.40" width="807.90" height="565.20" fill="none" stroke="#000" stroke-width="2.8"/>
<rect x="1546.60" y="6.40" width="454.20" height="318.20" fill="#fff"/>
<rect x="1659.34" y="6.40" width="32.45" height="318.20" fill="#f6eeed"/>
<clipPath id="clip140417160226256"><rect x="1546.60" y="6.40" width="454.20" height="318.20"/></clipPath>
<path d="M1572.13 324.60V309.65h1.35V324.60zM1573.48 324.60V322.61h1.35V324.60zM1574.84 324.60V320.61h1.35V324.60zM1577.54 324.60V316.62h1.35V324.60zM1578.89 324.60V323.60h1.35V324.60zM1580.24 324.60V322.61h1.35V324.60zM1582.95 324.60V321.61h1.35V324.60zM1584.30 324.60V315.23h1.35V324.60zM1585.65 324.60V294.87h1.35V324.60zM1587.00 324.60V306.51h1.35V324.60zM1588.36 324.60V292.22h1.35V324.60zM1589.71 324.60V285.62h1.35V324.60zM1591.06 324.60V286.67h1.35V324.60zM1592.41 324.60V291.76h1.35V324.60zM1593.76 324.60V282.39h1.35V324.60zM1595.12 324.60V297.92h1.35V324.60zM1596.47 324.60V266.71h1.35V324.60zM1597.82 324.60V278.76h1.35V324.60zM1599.17 324.60V279.52h1.35V324.60zM1600.52 324.60V308.77h1.35V324.60zM1601.88 324.60V276.42h1.35V324.60zM1603.23 324.60V279.83h1.35V324.60zM1604.58 324.60V263.38h1.35V324.60zM1605.93 324.60V247.67h1.35V324.60zM1607.28 324.60V299.79h1.35V324.60zM1608.64 324.60V271.90h1.35V324.60zM1609.99 324.60V262.81h1.35V324.60zM1611.34 324.60V268.07h1.35V324.60zM1612.69 324.60V273.33h1.35V324.60zM1614.04 324.60V278.52h1.35V324.60zM1615.40 324.60V266.97h1.35V324.60zM1616.75 324.60V262.21h1.35V324.60zM1618.10 324.60V263.01h1.35V324.60zM1619.45 324.60V244.52h1.35V324.60zM1620.80 324.60V263.18h1.35V324.60zM1622.16 324.60V240.73h1.35V324.60zM1623.51 324.60V293.61h1.35V324.60zM1624.86 324.60V249.88h1.35V324.60zM1626.21 324.60V240.63h1.35V324.60zM1627.56 324.60V203.54h1.35V324.60zM1628.92 324.60V239.48h1.35V324.60zM1630.27 324.60V230.08h1.35V324.60zM1631.62 324.60V119.72h1.35V324.60zM1632.97 324.60V276.17h1.35V324.60zM1634.32 324.60V189.63h1.35V324.60zM1635.68 324.60V151.12h1.35V324.60zM1637.03 324.60V210.44h1.35V324.60zM1638.38 324.60V198.40h1.35V324.60zM1639.73 324.60V241.25h1.35V324.60zM1641.08 324.60V189.99h1.35V324.60zM1642.44 324.60V192.56h1.35V324.60zM1643.79 324.60V149.13h1.35V324.60zM1645.14 324.60V52.82h1.35V324.60zM1646.49 324.60V223.98h1.35V324.60zM1647.84 324.60V115.23h1.35V324.60zM1649.20 324.60V21.51h1.35V324.60zM1650.55 324.60V166.83h1.35V324.60zM1651.90 324.60V145.14h1.35V324.60zM1653.25 324.60V169.63h1.35V324.60zM1654.60 324.60V105.26h1.35V324.60zM1655.96 324.60V182.85h1.35V324.60zM1657.31 324.60V131.70h1.35V324.60zM1658.66 324.60V140.77h1.35V324.60zM1660.01 324.60V194.45h1.35V324.60zM1661.36 324.60V213.99h1.35V324.60zM1662.72 324.60V179.90h1.35V324.60zM1664.07 324.60V190.22h1.35V324.60zM1665.42 324.60V199.16h1.35V324.60zM1666.77 324.60V240.59h1.35V324.60zM1668.12 324.60V191.50h1.35V324.60zM1669.48 324.60V133.18h1.35V324.60zM1670.83 324.60V244.06h1.35V324.60zM1672.18 324.60V221.27h1.35V324.60zM1673.53 324.60V253.23h1.35V324.60zM1674.88 324.60V216.17h1.35V324.60zM1676.24 324.60V216.86h1.35V324.60zM1677.59 324.60V239.84h1.35V324.60zM1678.94 324.60V242.07h1.35V324.60zM1680.29 324.60V265.78h1.35V324.60zM1681.64 324.60V252.54h1.35V324.60zM1683.00 324.60V185.02h1.35V324.60zM1684.35 324.60V280.29h1.35V324.60zM1685.70 324.60V246.46h1.35V324.60zM1687.05 324.60V264.28h1.35V324.60zM1688.40 324.60V271.10h1.35V324.60zM1689.76 324.60V299.42h1.35V324.60zM1691.11 324.60V258.16h1.35V324.60zM1692.46 324.60V204.96h1.35V324.60zM1693.81 324.60V264.50h1.35V324.60zM1695.16 324.60V260.55h1.35V324.60zM1696.52 324.60V277.54h1.35V324.60zM1697.87 324.60V280.15h1.35V324.60zM1699.22 324.60V300.63h1.35V324.60zM1700.57 324.60V252.80h1.35V324.60zM1701.92 324.60V251.14h1.35V324.60zM1703.28 324.60V259.95h1.35V324.60zM1704.63 324.60V246.40h1.35V324.60zM1705.98 324.60V242.41h1.35V324.60zM1707.33 324.60V253.81h1.35V324.60zM1708.68 324.60V301.03h1.35V324.60zM1710.04 324.60V245.96h1.35V324.60zM1711.39 324.60V269.33h1.35V324.60zM1712.74 324.60V259.56h1.35V324.60zM1714.09 324.60V267.31h1.35V324.60zM1715.44 324.60V269.17h1.35V324.60zM1716.80 324.60V277.06h1.35V324.60zM1718.15 324.60V308.95h1.35V324.60zM1719.50 324.60V262.43h1.35V324.60zM1720.85 324.60V278.96h1.35V324.60zM1722.20 324.60V275.55h1.35V324.60zM1723.56 324.60V264.28h1.35V324.60zM1724.91 324.60V277.08h1.35V324.60zM1726.26 324.60V295.43h1.35V324.60zM1727.61 324.60V306.69h1.35V324.60zM1728.96 324.60V266.89h1.35V324.60zM1730.32 324.60V281.27h1.35V324.60zM1731.67 324.60V277.26h1.35V324.60zM1733.02 324.60V242.85h1.35V324.60zM1734.37 324.60V270.80h1.35V324.60zM1735.72 324.60V274.95h1.35V324.60zM1737.08 324.60V303.92h1.35V324.60zM1738.43 324.60V272.96h1.35V324.60zM1739.78 324.60V280.69h1.35V324.60zM1741.13 324.60V264.72h1.35V324.60zM1742.48 324.60V277.18h1.35V324.60zM1743.84 324.60V279.06h1.35V324.60zM1745.19 324.60V280.31h1.35V324.60zM1746.54 324.60V304.90h1.35V324.60zM1747.89 324.60V286.67h1.35V324.60zM1749.24 324.60V258.36h1.35V324.60zM1750.60 324.60V278.18h1.35V324.60zM1751.95 324.60V287.31h1.35V324.60zM1753.30 324.60V261.31h1.35V324.60zM1754.65 324.60V291.10h1.35V324.60zM1756.00 324.60V306.81h1.35V324.60zM1757.36 324.60V284.44h1.35V324.60zM1758.71 324.60V289.86h1.35V324.60zM1760.06 324.60V287.95h1.35V324.60zM1761.41 324.60V285.28h1.35V324.60zM1762.76 324.60V293.31h1.35V324.60zM1764.12 324.60V293.81h1.35V324.60zM1765.47 324.60V316.42h1.35V324.60zM1766.82 324.60V297.18h1.35V324.60zM1768.17 324.60V296.01h1.35V324.60zM1769.52 324.60V293.37h1.35V324.60zM1770.88 324.60V309.05h1.35V324.60zM1772.23 324.60V293.02h1.35V324.60zM1773.58 324.60V307.27h1.35V324.60zM1774.93 324.60V314.97h1.35V324.60zM1776.28 324.60V301.23h1.35V324.60zM1777.64 324.60V301.19h1.35V324.60zM1778.99 324.60V292.88h1.35V324.60zM1780.34 324.60V298.52h1.35V324.60zM1781.69 324.60V297.48h1.35V324.60zM1783.04 324.60V307.65h1.35V324.60zM1784.40 324.60V316.29h1.35V324.60zM1785.75 324.60V295.93h1.35V324.60zM1787.10 324.60V296.66h1.35V324.60zM1788.45 324.60V306.57h1.35V324.60zM1789.80 324.60V309.43h1.35V324.60zM1791.16 324.60V300.71h1.35V324.60zM1792.51 324.60V307.97h1.35V324.60zM1793.86 324.60V315.95h1.35V324.60zM1795.21 324.60V301.95h1.35V324.60zM1796.56 324.60V301.75h1.35V324.60zM1797.92 324.60V300.39h1.35V324.60zM1799.27 324.60V303.44h1.35V324.60zM1800.62 324.60V302.27h1.35V324.60zM1801.97 324.60V308.55h1.35V324.60zM1803.32 324.60V317.22h1.35V324.60zM1804.68 324.60V301.59h1.35V324.60zM1806.03 324.60V305.52h1.35V324.60zM1807.38 324.60V302.73h1.35V324.60zM1808.73 324.60V308.01h1.35V324.60zM1810.08 324.60V304.04h1.35V324.60zM1811.44 324.60V310.60h1.35V324.60zM1812.79 324.60V315.17h1.35V324.60zM1814.14 324.60V301.81h1.35V324.60zM1815.49 324.60V304.92h1.35V324.60zM1816.84 324.60V303.70h1.35V324.60zM1818.20 324.60V303.36h1.35V324.60zM1819.55 324.60V301.35h1.35V324.60zM1820.90 324.60V311.12h1.35V324.60zM1822.25 324.60V316.07h1.35V324.60zM1823.60 324.60V302.09h1.35V324.60zM1824.96 324.60V304.78h1.35V324.60zM1826.31 324.60V301.37h1.35V324.60zM1827.66 324.60V307.33h1.35V324.60zM1829.01 324.60V307.27h1.35V324.60zM1830.36 324.60V312.58h1.35V324.60zM1831.72 324.60V317.18h1.35V324.60zM1833.07 324.60V308.01h1.35V324.60zM1834.42 324.60V298.50h1.35V324.60zM1835.77 324.60V299.68h1.35V324.60zM1837.12 324.60V305.82h1.35V324.60zM1838.48 324.60V308.01h1.35V324.60zM1839.83 324.60V310.50h1.35V324.60zM1841.18 324.60V317.86h1.35V324.60zM1842.53 324.60V306.24h1.35V324.60zM1843.88 324.60V309.19h1.35V324.60zM1845.24 324.60V305.52h1.35V324.60zM1846.59 324.60V302.81h1.35V324.60zM1847.94 324.60V307.81h1.35V324.60zM1849.29 324.60V312.80h1.35V324.60zM1850.64 324.60V320.27h1.35V324.60zM1852.00 324.60V305.90h1.35V324.60zM1853.35 324.60V308.39h1.35V324.60zM1854.70 324.60V305.64h1.35V324.60zM1856.05 324.60V299.81h1.35V324.60zM1857.40 324.60V310.08h1.35V324.60zM1858.76 324.60V303.50h1.35V324.60zM1860.11 324.60V314.01h1.35V324.60zM1861.46 324.60V300.75h1.35V324.60zM1862.81 324.60V278.16h1.35V324.60zM1864.16 324.60V289.53h1.35V324.60zM1865.52 324.60V290.72h1.35V324.60zM1866.87 324.60V294.37h1.35V324.60zM1868.22 324.60V300.87h1.35V324.60zM1869.57 324.60V311.00h1.35V324.60zM1870.92 324.60V283.16h1.35V324.60zM1872.28 324.60V258.30h1.35V324.60zM1873.63 324.60V284.82h1.35V324.60zM1874.98 324.60V273.65h1.35V324.60zM1876.33 324.60V281.13h1.35V324.60zM1877.68 324.60V287.87h1.35V324.60zM1879.04 324.60V307.83h1.35V324.60zM1880.39 324.60V280.55h1.35V324.60zM1881.74 324.60V253.37h1.35V324.60zM1883.09 324.60V277.72h1.35V324.60zM1884.44 324.60V267.47h1.35V324.60zM1885.80 324.60V264.90h1.35V324.60zM1887.15 324.60V288.77h1.35V324.60zM1888.50 324.60V305.20h1.35V324.60zM1889.85 324.60V277.42h1.35V324.60zM1891.20 324.60V274.03h1.35V324.60zM1892.56 324.60V293.03h1.35V324.60zM1893.91 324.60V258.22h1.35V324.60zM1895.26 324.60V282.39h1.35V324.60zM1896.61 324.60V287.03h1.35V324.60zM1897.96 324.60V300.25h1.35V324.60zM1899.32 324.60V264.96h1.35V324.60zM1900.67 324.60V270.04h1.35V324.60zM1902.02 324.60V268.39h1.35V324.60zM1903.37 324.60V258.12h1.35V324.60zM1904.72 324.60V250.46h1.35V324.60zM1906.08 324.60V282.35h1.35V324.60zM1907.43 324.60V303.84h1.35V324.60zM1908.78 324.60V246.53h1.35V324.60zM1910.13 324.60V244.42h1.35V324.60zM1911.48 324.60V254.61h1.35V324.60zM1912.84 324.60V254.31h1.35V324.60zM1914.19 324.60V236.43h1.35V324.60zM1915.54 324.60V275.99h1.35V324.60zM1916.89 324.60V281.85h1.35V324.60zM1918.24 324.60V238.72h1.35V324.60zM1919.60 324.60V237.56h1.35V324.60zM1920.95 324.60V249.05h1.35V324.60zM1922.30 324.60V247.31h1.35V324.60zM1923.65 324.60V201.01h1.35V324.60zM1925.00 324.60V269.43h1.35V324.60zM1926.36 324.60V261.11h1.35V324.60zM1927.71 324.60V183.50h1.35V324.60zM1929.06 324.60V235.99h1.35V324.60zM1930.41 324.60V187.01h1.35V324.60zM1931.76 324.60V200.97h1.35V324.60zM1933.12 324.60V260.93h1.35V324.60zM1934.47 324.60V246.26h1.35V324.60zM1935.82 324.60V271.70h1.35V324.60zM1937.17 324.60V240.93h1.35V324.60zM1938.52 324.60V210.94h1.35V324.60zM1939.88 324.60V267.83h1.35V324.60zM1941.23 324.60V231.58h1.35V324.60zM1942.58 324.60V209.67h1.35V324.60zM1943.93 324.60V235.71h1.35V324.60zM1945.28 324.60V285.40h1.35V324.60zM1946.64 324.60V276.17h1.35V324.60zM1947.99 324.60V239.06h1.35V324.60zM1949.34 324.60V236.23h1.35V324.60zM1950.69 324.60V222.93h1.35V324.60zM1952.04 324.60V224.90h1.35V324.60zM1953.40 324.60V278.28h1.35V324.60zM1954.75 324.60V298.50h1.35V324.60zM1956.10 324.60V254.49h1.35V324.60zM1957.45 324.60V256.60h1.35V324.60zM1958.80 324.60V254.91h1.35V324.60zM1960.16 324.60V248.09h1.35V324.60zM1961.51 324.60V259.02h1.35V324.60zM1962.86 324.60V273.35h1.35V324.60zM1964.21 324.60V295.35h1.35V324.60zM1965.56 324.60V246.10h1.35V324.60zM1966.92 324.60V210.94h1.35V324.60zM1968.27 324.60V276.68h1.35V324.60zM1969.62 324.60V225.16h1.35V324.60zM1970.97 324.60V246.00h1.35V324.60zM1972.32 324.60V284.44h1.35V324.60zM1973.68 324.60V300.95h1.35V324.60zM1975.03 324.60V223.05h1.35V324.60zM1976.38 324.60V239.89h1.35V324.60zM1977.73 324.60V238.54h1.35V324.60zM1979.08 324.60V272.86h1.35V324.60zM1980.44 324.60V257.32h1.35V324.60z" fill="#6a5e5e" fill-opacity="0.6" clip-path="url(#clip140417160226256)"/>
<line x1="1593.09" y1="6.40" x2="1593.09" y2="324.60" stroke="#000" stroke-opacity="0.38" stroke-width="1.4" stroke-dasharray="4.8,2.6"/>
<line x1="1659.34" y1="6.40" x2="1659.34" y2="324.60" stroke="#000" stroke-opacity="0.38" stroke-width="1.4" stroke-dasharray="4.8,2.6"/>
<line x1="1691.78" y1="6.40" x2="1691.78" y2="324.60" stroke="#000" stroke-opacity="0.38" stroke-width="1.4" stroke-dasharray="4.8,2.6"/>
<rect x="1546.60" y="6.40" width="454.20" height="318.20" fill="none" stroke="#000" stroke-width="2.3"/>
<line x1="1567.40" y1="324.60" x2="1567.40" y2="335.80" stroke="#000" stroke-width="2.2"/>
<line x1="1609.31" y1="324.60" x2="1609.31" y2="335.80" stroke="#000" stroke-width="2.2"/>
<line x1="1649.87" y1="324.60" x2="1649.87" y2="335.80" stroke="#000" stroke-width="2.2"/>
<line x1="1691.78" y1="324.60" x2="1691.78" y2="335.80" stroke="#000" stroke-width="2.2"/>
<line x1="1732.34" y1="324.60" x2="1732.34" y2="335.80" stroke="#000" stroke-width="2.2"/>
<line x1="1774.26" y1="324.60" x2="1774.26" y2="335.80" stroke="#000" stroke-width="2.2"/>
<line x1="1816.17" y1="324.60" x2="1816.17" y2="335.80" stroke="#000" stroke-width="2.2"/>
<line x1="1856.73" y1="324.60" x2="1856.73" y2="335.80" stroke="#000" stroke-width="2.2"/>
<line x1="1898.64" y1="324.60" x2="1898.64" y2="335.80" stroke="#000" stroke-width="2.2"/>
<line x1="1939.20" y1="324.60" x2="1939.20" y2="335.80" stroke="#000" stroke-width="2.2"/>
<line x1="1981.11" y1="324.60" x2="1981.11" y2="335.80" stroke="#000" stroke-width="2.2"/>
<line x1="1579.57" y1="324.60" x2="1579.57" y2="330.40" stroke="#000" stroke-width="2.0"/>
<line x1="1593.09" y1="324.60" x2="1593.09" y2="330.40" stroke="#000" stroke-width="2.0"/>
<line x1="1621.48" y1="324.60" x2="1621.48" y2="330.40" stroke="#000" stroke-width="2.0"/>
<line x1="1635.00" y1="324.60" x2="1635.00" y2="330.40" stroke="#000" stroke-width="2.0"/>
<line x1="1662.04" y1="324.60" x2="1662.04" y2="330.40" stroke="#000" stroke-width="2.0"/>
<line x1="1675.56" y1="324.60" x2="1675.56" y2="330.40" stroke="#000" stroke-width="2.0"/>
<line x1="1703.95" y1="324.60" x2="1703.95" y2="330.40" stroke="#000" stroke-width="2.0"/>
<line x1="1717.47" y1="324.60" x2="1717.47" y2="330.40" stroke="#000" stroke-width="2.0"/>
<line x1="1744.51" y1="324.60" x2="1744.51" y2="330.40" stroke="#000" stroke-width="2.0"/>
<line x1="1758.03" y1="324.60" x2="1758.03" y2="330.40" stroke="#000" stroke-width="2.0"/>
<line x1="1786.42" y1="324.60" x2="1786.42" y2="330.40" stroke="#000" stroke-width="2.0"/>
<line x1="1799.94" y1="324.60" x2="1799.94" y2="330.40" stroke="#000" stroke-width="2.0"/>
<line x1="1828.34" y1="324.60" x2="1828.34" y2="330.40" stroke="#000" stroke-width="2.0"/>
<line x1="1841.86" y1="324.60" x2="1841.86" y2="330.40" stroke="#000" stroke-width="2.0"/>
<line x1="1868.90" y1="324.60" x2="1868.90" y2="330.40" stroke="#000" stroke-width="2.0"/>
<line x1="1882.42" y1="324.60" x2="1882.42" y2="330.40" stroke="#000" stroke-width="2.0"/>
<line x1="1910.81" y1="324.60" x2="1910.81" y2="330.40" stroke="#000" stroke-width="2.0"/>
<line x1="1924.33" y1="324.60" x2="1924.33" y2="330.40" stroke="#000" stroke-width="2.0"/>
<line x1="1951.37" y1="324.60" x2="1951.37" y2="330.40" stroke="#000" stroke-width="2.0"/>
<line x1="1964.89" y1="324.60" x2="1964.89" y2="330.40" stroke="#000" stroke-width="2.0"/>
<text transform="translate(1558.86,372.90) rotate(-45)" font-size="19.30" fill="#000">Mar</text>
<text transform="translate(1599.71,371.40) rotate(-45)" font-size="19.30" fill="#000">Apr</text>
<text transform="translate(1640.46,375.03) rotate(-45)" font-size="19.30" fill="#000">May</text>
<text transform="translate(1684.00,367.40) rotate(-45)" font-size="19.30" fill="#000">Jun</text>
<text transform="translate(1726.06,367.90) rotate(-45)" font-size="19.30" fill="#000">Jul</text>
<text transform="translate(1762.28,373.53) rotate(-45)" font-size="19.30" fill="#000">Aug</text>
<text transform="translate(1807.57,368.78) rotate(-45)" font-size="19.30" fill="#000">Sep</text>
<text transform="translate(1848.07,369.53) rotate(-45)" font-size="19.30" fill="#000">Oct</text>
<text transform="translate(1890.54,373.53) rotate(-45)" font-size="19.30" fill="#000">Nov</text>
<text transform="translate(1930.73,371.53) rotate(-45)" font-size="19.30" fill="#000">Dec</text>
<text transform="translate(1973.70,366.65) rotate(-45)" font-size="19.30" fill="#000">Jan</text>
<line x1="1536.00" y1="324.60" x2="1546.60" y2="324.60" stroke="#000" stroke-width="2.1"/>
<text stroke="#fff" stroke-width="0.2" transform="translate(1519.58,334.60) scale(0.94,1)" font-size="29.04">0</text>
<line x1="1536.00" y1="224.90" x2="1546.60" y2="224.90" stroke="#000" stroke-width="2.1"/>
<text stroke="#fff" stroke-width="0.2" transform="translate(1499.17,234.90) scale(0.94,1)" font-size="29.04">0.5</text>
<line x1="1536.00" y1="125.20" x2="1546.60" y2="125.20" stroke="#000" stroke-width="2.1"/>
<text stroke="#fff" stroke-width="0.2" transform="translate(1499.11,135.20) scale(0.94,1)" font-size="29.04">1.0</text>
<line x1="1536.00" y1="25.50" x2="1546.60" y2="25.50" stroke="#000" stroke-width="2.1"/>
<text stroke="#fff" stroke-width="0.2" transform="translate(1499.17,35.50) scale(0.94,1)" font-size="29.04">1.5</text>
<text stroke="#fff" stroke-width="0.32" transform="translate(1487.50,261.92) rotate(-90) scale(0.8783,1)" font-size="40.30" fill="#000">Cases</text>
<text stroke="#fff" stroke-width="0.2" transform="translate(1487.83,163.69) rotate(-90) scale(1,1.6063)" font-size="26.00" fill="#000">(</text>
<text stroke="#fff" stroke-width="0.32" transform="translate(1491.85,153.88) rotate(-90) scale(0.9017,1)" font-size="42.72" fill="#000">×</text>
<text stroke="#fff" stroke-width="0.32" transform="translate(1486.95,127.38) rotate(-90) scale(0.9700,1)" font-size="35.11" fill="#000">10</text>
<text transform="translate(1472.17,94.44) rotate(-90) scale(1.1287,1)" font-size="23.20" fill="#000">3</text>
<text stroke="#fff" stroke-width="0.2" transform="translate(1487.83,80.09) rotate(-90) scale(1,1.6063)" font-size="26.00" fill="#000">)</text>
<rect x="823.42" y="927.10" width="58.56" height="565.20" fill="#f6eeed"/>
<line x1="703.86" y1="927.10" x2="703.86" y2="1492.30" stroke="#9a9a9a" stroke-width="1.5" stroke-dasharray="5.2,2.6"/>
<line x1="823.42" y1="927.10" x2="823.42" y2="1492.30" stroke="#9a9a9a" stroke-width="1.5" stroke-dasharray="5.2,2.6"/>
<line x1="881.98" y1="927.10" x2="881.98" y2="1492.30" stroke="#9a9a9a" stroke-width="1.5" stroke-dasharray="5.2,2.6"/>
<line x1="657.50" y1="1492.30" x2="657.50" y2="1503.80" stroke="#000" stroke-width="2.7"/>
<line x1="733.14" y1="1492.30" x2="733.14" y2="1503.80" stroke="#000" stroke-width="2.7"/>
<line x1="806.34" y1="1492.30" x2="806.34" y2="1503.80" stroke="#000" stroke-width="2.7"/>
<line x1="881.98" y1="1492.30" x2="881.98" y2="1503.80" stroke="#000" stroke-width="2.7"/>
<line x1="955.18" y1="1492.30" x2="955.18" y2="1503.80" stroke="#000" stroke-width="2.7"/>
<line x1="1030.82" y1="1492.30" x2="1030.82" y2="1503.80" stroke="#000" stroke-width="2.7"/>
<line x1="1106.46" y1="1492.30" x2="1106.46" y2="1503.80" stroke="#000" stroke-width="2.7"/>
<line x1="1179.66" y1="1492.30" x2="1179.66" y2="1503.80" stroke="#000" stroke-width="2.7"/>
<line x1="1255.30" y1="1492.30" x2="1255.30" y2="1503.80" stroke="#000" stroke-width="2.7"/>
<line x1="1328.50" y1="1492.30" x2="1328.50" y2="1503.80" stroke="#000" stroke-width="2.7"/>
<line x1="1404.14" y1="1492.30" x2="1404.14" y2="1503.80" stroke="#000" stroke-width="2.7"/>
<line x1="679.46" y1="1492.30" x2="679.46" y2="1498.30" stroke="#000" stroke-width="2.2"/>
<line x1="703.86" y1="1492.30" x2="703.86" y2="1498.30" stroke="#000" stroke-width="2.2"/>
<line x1="755.10" y1="1492.30" x2="755.10" y2="1498.30" stroke="#000" stroke-width="2.2"/>
<line x1="779.50" y1="1492.30" x2="779.50" y2="1498.30" stroke="#000" stroke-width="2.2"/>
<line x1="828.30" y1="1492.30" x2="828.30" y2="1498.30" stroke="#000" stroke-width="2.2"/>
<line x1="852.70" y1="1492.30" x2="852.70" y2="1498.30" stroke="#000" stroke-width="2.2"/>
<line x1="903.94" y1="1492.30" x2="903.94" y2="1498.30" stroke="#000" stroke-width="2.2"/>
<line x1="928.34" y1="1492.30" x2="928.34" y2="1498.30" stroke="#000" stroke-width="2.2"/>
<line x1="977.14" y1="1492.30" x2="977.14" y2="1498.30" stroke="#000" stroke-width="2.2"/>
<line x1="1001.54" y1="1492.30" x2="1001.54" y2="1498.30" stroke="#000" stroke-width="2.2"/>
<line x1="1052.78" y1="1492.30" x2="1052.78" y2="1498.30" stroke="#000" stroke-width="2.2"/>
<line x1="1077.18" y1="1492.30" x2="1077.18" y2="1498.30" stroke="#000" stroke-width="2.2"/>
<line x1="1128.42" y1="1492.30" x2="1128.42" y2="1498.30" stroke="#000" stroke-width="2.2"/>
<line x1="1152.82" y1="1492.30" x2="1152.82" y2="1498.30" stroke="#000" stroke-width="2.2"/>
<line x1="1201.62" y1="1492.30" x2="1201.62" y2="1498.30" stroke="#000" stroke-width="2.2"/>
<line x1="1226.02" y1="1492.30" x2="1226.02" y2="1498.30" stroke="#000" stroke-width="2.2"/>
<line x1="1277.26" y1="1492.30" x2="1277.26" y2="1498.30" stroke="#000" stroke-width="2.2"/>
<line x1="1301.66" y1="1492.30" x2="1301.66" y2="1498.30" stroke="#000" stroke-width="2.2"/>
<line x1="1350.46" y1="1492.30" x2="1350.46" y2="1498.30" stroke="#000" stroke-width="2.2"/>
<line x1="1374.86" y1="1492.30" x2="1374.86" y2="1498.30" stroke="#000" stroke-width="2.2"/>
<line x1="619.10" y1="1470.10" x2="630.60" y2="1470.10" stroke="#000" stroke-width="2.8"/>
<line x1="619.10" y1="1243.75" x2="630.60" y2="1243.75" stroke="#000" stroke-width="2.8"/>
<line x1="619.10" y1="1017.40" x2="630.60" y2="1017.40" stroke="#000" stroke-width="2.8"/>
<text stroke="#fff" stroke-width="0.32" transform="translate(631.73,1536.60) scale(0.9525,1)" font-size="32.06">Mar</text>
<text stroke="#fff" stroke-width="0.32" transform="translate(709.36,1536.60) scale(0.9525,1)" font-size="32.06">Apr</text>
<text stroke="#fff" stroke-width="0.32" transform="translate(777.98,1536.60) scale(0.9525,1)" font-size="32.06">May</text>
<text stroke="#fff" stroke-width="0.32" transform="translate(860.68,1536.60) scale(0.9525,1)" font-size="32.06">Jun</text>
<text stroke="#fff" stroke-width="0.32" transform="translate(937.35,1536.60) scale(0.9525,1)" font-size="32.06">Jul</text>
<text stroke="#fff" stroke-width="0.32" transform="translate(1004.67,1536.60) scale(0.9525,1)" font-size="32.06">Aug</text>
<text stroke="#fff" stroke-width="0.32" transform="translate(1083.14,1536.60) scale(0.9525,1)" font-size="32.06">Sep</text>
<text stroke="#fff" stroke-width="0.32" transform="translate(1157.10,1536.60) scale(0.9525,1)" font-size="32.06">Oct</text>
<text stroke="#fff" stroke-width="0.32" transform="translate(1228.54,1536.60) scale(0.9525,1)" font-size="32.06">Nov</text>
<text stroke="#fff" stroke-width="0.32" transform="translate(1303.96,1536.60) scale(0.9525,1)" font-size="32.06">Dec</text>
<text stroke="#fff" stroke-width="0.32" transform="translate(1383.72,1536.60) scale(0.9525,1)" font-size="32.06">Jan</text>
<text stroke="#fff" stroke-width="0.32" transform="translate(598.70,1482.90) scale(0.9435,1)" font-size="37.12">0</text>
<text stroke="#fff" stroke-width="0.32" transform="translate(572.52,1256.55) scale(0.9435,1)" font-size="37.12">0.5</text>
<text stroke="#fff" stroke-width="0.32" transform="translate(572.44,1030.20) scale(0.9435,1)" font-size="37.12">1.0</text>
<text transform="translate(638.01,977.65) scale(1.1901,1)" font-size="55.00" font-weight="bold" fill="#000">c</text>
<text stroke="#fff" stroke-width="0.5" transform="translate(556.88,1402.40) rotate(-90) scale(0.9614,1)" font-size="51.91" fill="#000">Normalized Deaths</text>
<polyline points="666.4,1470.1 677.7,1470.1 679.6,1451.7 691.9,1451.7 694.1,1397.0 696.9,1397.0 699.0,1361.5 701.9,1360.8 704.3,1324.6 706.6,1360.8 709.0,1343.0 711.4,1342.3 713.9,1324.6 716.8,1358.0 723.6,1416.2 726.0,1361.5 728.9,1380.0 733.8,1379.2 738.1,1416.2 740.9,1398.4 743.0,1397.7 745.5,1361.5 750.1,1416.2 753.7,1396.3 755.1,1306.8 758.0,1306.1 760.8,1288.4 762.6,1233.3 765.1,1216.9 767.6,1216.9 770.1,1198.4 772.6,1218.2 775.1,1253.2 777.7,1253.2 779.3,1180.5 782.2,1180.5 784.9,1162.8 786.9,1107.8 789.4,1107.8 792.3,1126.2 795.0,1126.2 799.0,1035.2 801.7,1035.2 804.0,1107.8 809.1,1072.2 811.4,1144.4 813.8,1072.2 818.8,1144.4 823.8,1016.8 826.4,1089.8 830.9,1016.8 833.9,1115.8 838.9,1198.1 840.7,1252.6 843.1,1273.6 847.9,1378.5 850.3,1379.3 855.2,1434.2 858.4,1434.2 860.5,1415.7 863.3,1415.7 869.2,1325.3 875.0,1325.3 880.2,1380.1 887.0,1288.1 890.7,1307.5 892.3,1307.5 894.7,1380.1 902.8,1452.0 904.7,1452.0 911.7,1397.9 914.1,1397.9 916.5,1361.6 923.0,1397.9 925.4,1397.9 928.6,1434.2 931.1,1434.2 933.5,1469.8 940.7,1469.8 943.2,1434.2 950.4,1434.2 955.3,1397.9 962.5,1397.9 967.4,1469.8 972.2,1469.8 979.5,1415.7 981.9,1415.7 984.8,1397.9 987.6,1415.7 992.5,1416.4 994.7,1397.4 996.7,1415.8 1001.7,1415.8 1006.6,1452.0 1011.5,1452.0 1013.9,1469.8 1026.2,1469.8 1028.7,1452.0 1038.5,1452.0 1040.9,1469.8 1096.7,1469.8 1099.2,1452.0 1109.0,1452.0 1111.5,1469.8 1143.4,1469.8 1145.8,1452.0 1155.5,1452.0 1157.9,1433.7 1167.6,1433.7 1170.0,1470.2 1179.7,1470.2 1182.1,1452.0 1203.9,1452.0 1206.3,1470.2 1220.9,1470.2 1223.3,1452.0 1228.1,1452.0 1233.5,1415.7 1236.2,1433.7 1241.1,1433.7 1245.9,1470.2 1319.2,1469.6 1321.7,1452.2 1326.0,1452.2 1330.8,1415.4 1333.7,1433.8 1336.1,1415.4 1339.2,1415.4 1343.4,1452.2 1345.8,1452.2 1348.3,1469.6 1360.9,1469.6 1365.1,1433.8 1367.6,1433.8 1370.6,1415.4 1373.5,1415.4 1375.4,1433.8 1387.6,1433.8 1389.9,1452.2 1402.5,1452.2" fill="none" stroke="#861616" stroke-width="2.6" stroke-linejoin="round" stroke-linecap="round"/>
<polyline points="667.1,1455.9 669.9,1460.2 674.9,1460.2 677.7,1463.0 682.0,1460.2 685.6,1455.2 689.1,1445.3 691.9,1443.1 694.1,1425.4 696.6,1427.5 699.5,1416.9 701.9,1420.4 704.0,1401.3 706.8,1409.1 709.4,1399.1 711.4,1397.7 713.9,1375.7 716.1,1391.3 718.2,1389.2 722.5,1392.7 725.6,1399.1 728.9,1388.5 730.7,1388.5 732.4,1369.3 736.0,1362.2 738.8,1362.9 740.9,1373.6 743.0,1362.9 745.9,1380.7 749.4,1390.6 751.6,1390.6 753.7,1382.8 755.4,1362.9 758.0,1358.0 762.2,1333.8 765.1,1309.0 767.9,1315.4 772.2,1288.4 774.3,1288.4 777.5,1295.5 780.0,1264.3 784.4,1255.2 787.7,1226.6 791.9,1217.4 796.6,1183.0 799.5,1156.1 804.2,1133.4 808.7,1031.0 811.2,1032.7 813.8,1021.0 816.3,1017.6 821.3,1122.5 826.4,1154.4 828.5,1153.6 835.6,1117.8 838.1,1128.4 841.5,1132.6 845.7,1221.6 847.7,1226.3 850.4,1225.8 852.9,1251.0 857.8,1212.4 860.8,1230.0 862.4,1272.0 865.7,1284.9 869.7,1322.0 872.5,1349.5 874.6,1330.9 880.2,1367.2 883.4,1312.3 886.7,1306.7 889.9,1297.8 892.3,1270.4 897.2,1330.9 899.6,1319.6 903.6,1339.8 908.5,1328.5 915.7,1368.8 919.8,1381.0 923.0,1377.7 928.6,1355.1 931.5,1369.7 933.5,1365.6 940.7,1382.6 943.2,1364.8 948.0,1389.8 951.2,1387.4 953.7,1395.5 955.3,1370.5 960.1,1357.5 963.4,1360.8 965.8,1375.3 968.2,1407.6 969.8,1407.6 974.7,1375.3 979.5,1337.4 981.9,1348.7 985.1,1349.5 987.6,1368.0 992.4,1373.7 994.7,1364.2 997.4,1380.8 1002.3,1405.3 1006.0,1420.1 1009.0,1427.4 1011.5,1421.3 1014.5,1432.3 1018.8,1443.4 1023.7,1425.6 1026.2,1422.5 1031.1,1400.4 1034.2,1409.6 1036.0,1418.8 1038.5,1414.5 1040.9,1416.4 1043.4,1425.6 1045.8,1418.8 1048.3,1423.1 1050.7,1434.8 1055.4,1418.2 1057.9,1429.9 1060.6,1420.1 1063.0,1418.8 1067.3,1450.1 1069.8,1450.1 1072.6,1454.4 1075.3,1449.5 1078.3,1429.9 1082.0,1423.1 1085.1,1429.9 1087.5,1432.3 1090.0,1441.5 1092.5,1438.5 1097.4,1427.4 1099.8,1427.4 1102.3,1434.2 1104.1,1434.8 1108.4,1445.2 1112.1,1444.0 1114.5,1432.3 1117.0,1436.6 1121.9,1434.2 1123.7,1429.9 1126.2,1439.1 1131.1,1425.6 1133.6,1427.4 1136.0,1439.1 1140.3,1433.6 1144.0,1417.6 1148.2,1409.2 1151.5,1417.3 1155.5,1444.7 1157.9,1447.1 1160.3,1452.0 1165.2,1434.2 1170.0,1445.5 1172.4,1436.7 1175.7,1434.2 1178.1,1435.8 1182.1,1430.2 1187.3,1447.1 1190.2,1444.7 1194.2,1422.1 1199.6,1409.2 1203.1,1418.1 1206.8,1439.1 1211.2,1412.4 1216.0,1382.6 1218.9,1381.0 1221.7,1391.4 1228.1,1385.8 1233.8,1358.4 1238.6,1400.3 1241.9,1396.3 1245.9,1405.2 1250.7,1377.7 1258.0,1416.5 1264.5,1362.4 1267.7,1314.0 1270.6,1308.3 1273.4,1342.2 1275.8,1348.7 1277.7,1347.0 1280.3,1364.8 1282.6,1364.8 1285.1,1346.2 1287.9,1351.1 1290.3,1376.1 1292.7,1376.1 1295.1,1351.1 1297.6,1350.3 1302.2,1310.8 1304.7,1321.4 1307.0,1351.4 1313.4,1267.2 1316.7,1243.9 1319.2,1225.5 1321.5,1242.0 1324.1,1307.9 1326.0,1317.5 1331.2,1324.3 1333.2,1315.6 1336.1,1285.6 1338.6,1311.7 1340.9,1337.9 1343.4,1331.1 1348.3,1378.6 1353.1,1324.3 1355.6,1344.7 1358.9,1338.9 1364.7,1282.7 1367.6,1279.8 1372.5,1281.7 1374.4,1319.5 1377.9,1327.2 1382.2,1268.1 1385.1,1274.0 1388.0,1291.4 1391.9,1344.7 1394.8,1387.3 1397.1,1387.3 1401.5,1360.2" fill="none" stroke="#202020" stroke-width="2.6" stroke-linejoin="round" stroke-linecap="round"/>
<rect x="630.60" y="927.10" width="807.90" height="565.20" fill="none" stroke="#000" stroke-width="2.8"/>
<rect x="1030.20" y="800.10" width="455.30" height="318.20" fill="#fff"/>
<rect x="1143.60" y="800.10" width="32.47" height="318.20" fill="#f6eeed"/>
<clipPath id="clip140417099439600"><rect x="1030.20" y="800.10" width="455.30" height="318.20"/></clipPath>
<path d="M1056.34 1118.30V1106.46h1.35V1118.30zM1059.04 1118.30V1112.38h1.35V1118.30zM1063.10 1118.30V1112.38h1.35V1118.30zM1064.45 1118.30V1106.46h1.35V1118.30zM1065.81 1118.30V1106.46h1.35V1118.30zM1067.16 1118.30V1106.46h1.35V1118.30zM1068.51 1118.30V1082.78h1.35V1118.30zM1069.87 1118.30V1094.62h1.35V1118.30zM1071.22 1118.30V1100.54h1.35V1118.30zM1072.57 1118.30V1065.02h1.35V1118.30zM1073.92 1118.30V1100.54h1.35V1118.30zM1075.28 1118.30V1082.78h1.35V1118.30zM1076.63 1118.30V1088.70h1.35V1118.30zM1077.98 1118.30V1094.62h1.35V1118.30zM1079.34 1118.30V1065.02h1.35V1118.30zM1080.69 1118.30V1100.54h1.35V1118.30zM1082.04 1118.30V1100.54h1.35V1118.30zM1083.40 1118.30V1065.02h1.35V1118.30zM1084.75 1118.30V1088.70h1.35V1118.30zM1086.10 1118.30V1094.62h1.35V1118.30zM1087.45 1118.30V1059.10h1.35V1118.30zM1088.81 1118.30V1112.38h1.35V1118.30zM1090.16 1118.30V1076.86h1.35V1118.30zM1091.51 1118.30V1076.86h1.35V1118.30zM1092.87 1118.30V1106.46h1.35V1118.30zM1094.22 1118.30V1047.26h1.35V1118.30zM1095.57 1118.30V1065.02h1.35V1118.30zM1096.93 1118.30V1100.54h1.35V1118.30zM1098.28 1118.30V1100.54h1.35V1118.30zM1099.63 1118.30V1082.78h1.35V1118.30zM1100.98 1118.30V1076.86h1.35V1118.30zM1102.34 1118.30V1047.26h1.35V1118.30zM1103.69 1118.30V1053.18h1.35V1118.30zM1105.04 1118.30V1011.74h1.35V1118.30zM1106.40 1118.30V1100.54h1.35V1118.30zM1107.75 1118.30V1094.62h1.35V1118.30zM1109.10 1118.30V999.90h1.35V1118.30zM1110.46 1118.30V1011.74h1.35V1118.30zM1111.81 1118.30V1047.26h1.35V1118.30zM1113.16 1118.30V1005.82h1.35V1118.30zM1114.51 1118.30V1011.74h1.35V1118.30zM1115.87 1118.30V1047.26h1.35V1118.30zM1117.22 1118.30V940.70h1.35V1118.30zM1118.57 1118.30V1005.82h1.35V1118.30zM1119.93 1118.30V1041.34h1.35V1118.30zM1121.28 1118.30V1023.58h1.35V1118.30zM1122.63 1118.30V851.90h1.35V1118.30zM1123.99 1118.30V999.90h1.35V1118.30zM1125.34 1118.30V1005.82h1.35V1118.30zM1126.69 1118.30V1076.86h1.35V1118.30zM1128.04 1118.30V905.18h1.35V1118.30zM1129.40 1118.30V928.86h1.35V1118.30zM1130.75 1118.30V982.14h1.35V1118.30zM1132.10 1118.30V863.74h1.35V1118.30zM1133.46 1118.30V816.38h1.35V1118.30zM1134.81 1118.30V1023.58h1.35V1118.30zM1136.16 1118.30V1053.18h1.35V1118.30zM1137.52 1118.30V946.62h1.35V1118.30zM1138.87 1118.30V905.18h1.35V1118.30zM1140.22 1118.30V940.70h1.35V1118.30zM1141.57 1118.30V851.90h1.35V1118.30zM1142.93 1118.30V958.46h1.35V1118.30zM1144.28 1118.30V875.58h1.35V1118.30zM1145.63 1118.30V1047.26h1.35V1118.30zM1146.99 1118.30V958.46h1.35V1118.30zM1148.34 1118.30V899.26h1.35V1118.30zM1149.69 1118.30V922.94h1.35V1118.30zM1151.05 1118.30V934.78h1.35V1118.30zM1152.40 1118.30V881.50h1.35V1118.30zM1153.75 1118.30V875.58h1.35V1118.30zM1155.10 1118.30V1011.74h1.35V1118.30zM1156.46 1118.30V946.62h1.35V1118.30zM1157.81 1118.30V952.54h1.35V1118.30zM1159.16 1118.30V899.26h1.35V1118.30zM1160.52 1118.30V993.98h1.35V1118.30zM1161.87 1118.30V1023.58h1.35V1118.30zM1163.22 1118.30V1035.42h1.35V1118.30zM1164.58 1118.30V1065.02h1.35V1118.30zM1165.93 1118.30V1017.66h1.35V1118.30zM1167.28 1118.30V1029.50h1.35V1118.30zM1168.63 1118.30V1053.18h1.35V1118.30zM1169.99 1118.30V1070.94h1.35V1118.30zM1171.34 1118.30V1106.46h1.35V1118.30zM1172.69 1118.30V1065.02h1.35V1118.30zM1174.05 1118.30V1106.46h1.35V1118.30zM1175.40 1118.30V1041.34h1.35V1118.30zM1176.75 1118.30V1023.58h1.35V1118.30zM1178.11 1118.30V1011.74h1.35V1118.30zM1179.46 1118.30V1035.42h1.35V1118.30zM1180.81 1118.30V1047.26h1.35V1118.30zM1182.16 1118.30V1053.18h1.35V1118.30zM1183.52 1118.30V1100.54h1.35V1118.30zM1184.87 1118.30V1076.86h1.35V1118.30zM1186.22 1118.30V1059.10h1.35V1118.30zM1187.58 1118.30V1047.26h1.35V1118.30zM1188.93 1118.30V1035.42h1.35V1118.30zM1190.28 1118.30V1041.34h1.35V1118.30zM1191.64 1118.30V1082.78h1.35V1118.30zM1192.99 1118.30V1100.54h1.35V1118.30zM1194.34 1118.30V1059.10h1.35V1118.30zM1195.69 1118.30V1047.26h1.35V1118.30zM1197.05 1118.30V1065.02h1.35V1118.30zM1198.40 1118.30V1011.74h1.35V1118.30zM1199.75 1118.30V1076.86h1.35V1118.30zM1201.11 1118.30V1082.78h1.35V1118.30zM1202.46 1118.30V1100.54h1.35V1118.30zM1203.81 1118.30V1076.86h1.35V1118.30zM1205.17 1118.30V1106.46h1.35V1118.30zM1206.52 1118.30V1076.86h1.35V1118.30zM1207.87 1118.30V1053.18h1.35V1118.30zM1209.22 1118.30V1076.86h1.35V1118.30zM1210.58 1118.30V1059.10h1.35V1118.30zM1211.93 1118.30V1100.54h1.35V1118.30zM1213.28 1118.30V1076.86h1.35V1118.30zM1214.64 1118.30V1065.02h1.35V1118.30zM1215.99 1118.30V993.98h1.35V1118.30zM1217.34 1118.30V1041.34h1.35V1118.30zM1218.70 1118.30V1088.70h1.35V1118.30zM1220.05 1118.30V1065.02h1.35V1118.30zM1221.40 1118.30V1106.46h1.35V1118.30zM1222.75 1118.30V1053.18h1.35V1118.30zM1224.11 1118.30V1017.66h1.35V1118.30zM1225.46 1118.30V1088.70h1.35V1118.30zM1226.81 1118.30V1070.94h1.35V1118.30zM1228.17 1118.30V1094.62h1.35V1118.30zM1229.52 1118.30V1035.42h1.35V1118.30zM1230.87 1118.30V1106.46h1.35V1118.30zM1232.23 1118.30V1076.86h1.35V1118.30zM1233.58 1118.30V1041.34h1.35V1118.30zM1234.93 1118.30V1041.34h1.35V1118.30zM1236.28 1118.30V1082.78h1.35V1118.30zM1237.64 1118.30V1076.86h1.35V1118.30zM1238.99 1118.30V1106.46h1.35V1118.30zM1240.34 1118.30V1100.54h1.35V1118.30zM1241.70 1118.30V1094.62h1.35V1118.30zM1243.05 1118.30V1088.70h1.35V1118.30zM1244.40 1118.30V1076.86h1.35V1118.30zM1245.76 1118.30V1094.62h1.35V1118.30zM1247.11 1118.30V1100.54h1.35V1118.30zM1248.46 1118.30V1106.46h1.35V1118.30zM1249.81 1118.30V1100.54h1.35V1118.30zM1251.17 1118.30V1094.62h1.35V1118.30zM1252.52 1118.30V1082.78h1.35V1118.30zM1253.87 1118.30V1070.94h1.35V1118.30zM1255.23 1118.30V1094.62h1.35V1118.30zM1256.58 1118.30V1094.62h1.35V1118.30zM1257.93 1118.30V1106.46h1.35V1118.30zM1260.64 1118.30V1082.78h1.35V1118.30zM1261.99 1118.30V1112.38h1.35V1118.30zM1263.34 1118.30V1094.62h1.35V1118.30zM1264.70 1118.30V1112.38h1.35V1118.30zM1266.05 1118.30V1100.54h1.35V1118.30zM1267.40 1118.30V1082.78h1.35V1118.30zM1268.76 1118.30V1106.46h1.35V1118.30zM1270.11 1118.30V1106.46h1.35V1118.30zM1271.46 1118.30V1100.54h1.35V1118.30zM1272.82 1118.30V1100.54h1.35V1118.30zM1274.17 1118.30V1100.54h1.35V1118.30zM1275.52 1118.30V1100.54h1.35V1118.30zM1276.87 1118.30V1106.46h1.35V1118.30zM1278.23 1118.30V1112.38h1.35V1118.30zM1279.58 1118.30V1088.70h1.35V1118.30zM1280.93 1118.30V1100.54h1.35V1118.30zM1282.29 1118.30V1100.54h1.35V1118.30zM1284.99 1118.30V1112.38h1.35V1118.30zM1286.35 1118.30V1106.46h1.35V1118.30zM1289.05 1118.30V1082.78h1.35V1118.30zM1290.40 1118.30V1094.62h1.35V1118.30zM1291.76 1118.30V1100.54h1.35V1118.30zM1293.11 1118.30V1112.38h1.35V1118.30zM1294.46 1118.30V1088.70h1.35V1118.30zM1295.82 1118.30V1100.54h1.35V1118.30zM1297.17 1118.30V1100.54h1.35V1118.30zM1298.52 1118.30V1088.70h1.35V1118.30zM1299.88 1118.30V1100.54h1.35V1118.30zM1301.23 1118.30V1106.46h1.35V1118.30zM1302.58 1118.30V1106.46h1.35V1118.30zM1303.93 1118.30V1094.62h1.35V1118.30zM1305.29 1118.30V1100.54h1.35V1118.30zM1306.64 1118.30V1106.46h1.35V1118.30zM1307.99 1118.30V1106.46h1.35V1118.30zM1309.35 1118.30V1088.70h1.35V1118.30zM1310.70 1118.30V1106.46h1.35V1118.30zM1312.05 1118.30V1088.70h1.35V1118.30zM1313.41 1118.30V1106.46h1.35V1118.30zM1314.76 1118.30V1100.54h1.35V1118.30zM1317.46 1118.30V1106.46h1.35V1118.30zM1318.82 1118.30V1100.54h1.35V1118.30zM1320.17 1118.30V1094.62h1.35V1118.30zM1321.52 1118.30V1047.26h1.35V1118.30zM1322.88 1118.30V1112.38h1.35V1118.30zM1324.23 1118.30V1112.38h1.35V1118.30zM1325.58 1118.30V1112.38h1.35V1118.30zM1326.94 1118.30V1100.54h1.35V1118.30zM1328.29 1118.30V1112.38h1.35V1118.30zM1329.64 1118.30V1094.62h1.35V1118.30zM1330.99 1118.30V1094.62h1.35V1118.30zM1332.35 1118.30V1094.62h1.35V1118.30zM1333.70 1118.30V1100.54h1.35V1118.30zM1335.05 1118.30V1106.46h1.35V1118.30zM1336.41 1118.30V1106.46h1.35V1118.30zM1337.76 1118.30V1094.62h1.35V1118.30zM1339.11 1118.30V1100.54h1.35V1118.30zM1340.47 1118.30V1100.54h1.35V1118.30zM1341.82 1118.30V1088.70h1.35V1118.30zM1343.17 1118.30V1094.62h1.35V1118.30zM1345.88 1118.30V1082.78h1.35V1118.30zM1347.23 1118.30V1065.02h1.35V1118.30zM1348.58 1118.30V1082.78h1.35V1118.30zM1349.94 1118.30V1059.10h1.35V1118.30zM1351.29 1118.30V1070.94h1.35V1118.30zM1352.64 1118.30V1094.62h1.35V1118.30zM1354.00 1118.30V1070.94h1.35V1118.30zM1355.35 1118.30V1029.50h1.35V1118.30zM1356.70 1118.30V1094.62h1.35V1118.30zM1358.05 1118.30V1082.78h1.35V1118.30zM1359.41 1118.30V1059.10h1.35V1118.30zM1360.76 1118.30V1082.78h1.35V1118.30zM1362.11 1118.30V1100.54h1.35V1118.30zM1363.47 1118.30V1088.70h1.35V1118.30zM1364.82 1118.30V1088.70h1.35V1118.30zM1366.17 1118.30V1065.02h1.35V1118.30zM1367.53 1118.30V1059.10h1.35V1118.30zM1368.88 1118.30V1053.18h1.35V1118.30zM1370.23 1118.30V1059.10h1.35V1118.30zM1371.58 1118.30V1100.54h1.35V1118.30zM1372.94 1118.30V1088.70h1.35V1118.30zM1374.29 1118.30V1076.86h1.35V1118.30zM1375.64 1118.30V1065.02h1.35V1118.30zM1377.00 1118.30V1065.02h1.35V1118.30zM1378.35 1118.30V1082.78h1.35V1118.30zM1379.70 1118.30V1100.54h1.35V1118.30zM1381.06 1118.30V1047.26h1.35V1118.30zM1382.41 1118.30V1094.62h1.35V1118.30zM1383.76 1118.30V1053.18h1.35V1118.30zM1385.11 1118.30V1041.34h1.35V1118.30zM1386.47 1118.30V1023.58h1.35V1118.30zM1387.82 1118.30V1082.78h1.35V1118.30zM1389.17 1118.30V993.98h1.35V1118.30zM1390.53 1118.30V1100.54h1.35V1118.30zM1391.88 1118.30V1082.78h1.35V1118.30zM1393.23 1118.30V999.90h1.35V1118.30zM1394.59 1118.30V1029.50h1.35V1118.30zM1395.94 1118.30V1029.50h1.35V1118.30zM1397.29 1118.30V1047.26h1.35V1118.30zM1398.64 1118.30V1053.18h1.35V1118.30zM1400.00 1118.30V1070.94h1.35V1118.30zM1401.35 1118.30V1053.18h1.35V1118.30zM1402.70 1118.30V1041.34h1.35V1118.30zM1404.06 1118.30V1035.42h1.35V1118.30zM1405.41 1118.30V1070.94h1.35V1118.30zM1406.76 1118.30V988.06h1.35V1118.30zM1408.12 1118.30V1041.34h1.35V1118.30zM1409.47 1118.30V1035.42h1.35V1118.30zM1410.82 1118.30V1047.26h1.35V1118.30zM1412.17 1118.30V1053.18h1.35V1118.30zM1413.53 1118.30V917.02h1.35V1118.30zM1414.88 1118.30V1029.50h1.35V1118.30zM1416.23 1118.30V1041.34h1.35V1118.30zM1417.59 1118.30V1053.18h1.35V1118.30zM1418.94 1118.30V1029.50h1.35V1118.30zM1420.29 1118.30V1035.42h1.35V1118.30zM1421.65 1118.30V1035.42h1.35V1118.30zM1423.00 1118.30V1017.66h1.35V1118.30zM1424.35 1118.30V1017.66h1.35V1118.30zM1425.70 1118.30V1053.18h1.35V1118.30zM1427.06 1118.30V952.54h1.35V1118.30zM1428.41 1118.30V1041.34h1.35V1118.30zM1429.76 1118.30V1082.78h1.35V1118.30zM1431.12 1118.30V1059.10h1.35V1118.30zM1432.47 1118.30V1041.34h1.35V1118.30zM1433.82 1118.30V1082.78h1.35V1118.30zM1435.18 1118.30V1041.34h1.35V1118.30zM1436.53 1118.30V1053.18h1.35V1118.30zM1437.88 1118.30V1053.18h1.35V1118.30zM1439.23 1118.30V1112.38h1.35V1118.30zM1440.59 1118.30V1065.02h1.35V1118.30zM1441.94 1118.30V946.62h1.35V1118.30zM1443.29 1118.30V1053.18h1.35V1118.30zM1444.65 1118.30V964.38h1.35V1118.30zM1446.00 1118.30V1065.02h1.35V1118.30zM1447.35 1118.30V1076.86h1.35V1118.30zM1448.71 1118.30V1070.94h1.35V1118.30zM1450.06 1118.30V1076.86h1.35V1118.30zM1451.41 1118.30V1029.50h1.35V1118.30zM1452.76 1118.30V964.38h1.35V1118.30zM1454.12 1118.30V1053.18h1.35V1118.30zM1455.47 1118.30V1023.58h1.35V1118.30zM1456.82 1118.30V1094.62h1.35V1118.30zM1458.18 1118.30V1076.86h1.35V1118.30zM1459.53 1118.30V1053.18h1.35V1118.30zM1460.88 1118.30V1065.02h1.35V1118.30zM1462.24 1118.30V1041.34h1.35V1118.30zM1463.59 1118.30V1047.26h1.35V1118.30zM1464.94 1118.30V1059.10h1.35V1118.30z" fill="#6a5e5e" fill-opacity="0.6" clip-path="url(#clip140417099439600)"/>
<line x1="1077.31" y1="800.10" x2="1077.31" y2="1118.30" stroke="#000" stroke-opacity="0.38" stroke-width="1.4" stroke-dasharray="4.8,2.6"/>
<line x1="1143.60" y1="800.10" x2="1143.60" y2="1118.30" stroke="#000" stroke-opacity="0.38" stroke-width="1.4" stroke-dasharray="4.8,2.6"/>
<line x1="1176.08" y1="800.10" x2="1176.08" y2="1118.30" stroke="#000" stroke-opacity="0.38" stroke-width="1.4" stroke-dasharray="4.8,2.6"/>
<rect x="1030.20" y="800.10" width="455.30" height="318.20" fill="none" stroke="#000" stroke-width="2.3"/>
<line x1="1051.60" y1="1118.30" x2="1051.60" y2="1129.50" stroke="#000" stroke-width="2.2"/>
<line x1="1093.54" y1="1118.30" x2="1093.54" y2="1129.50" stroke="#000" stroke-width="2.2"/>
<line x1="1134.13" y1="1118.30" x2="1134.13" y2="1129.50" stroke="#000" stroke-width="2.2"/>
<line x1="1176.08" y1="1118.30" x2="1176.08" y2="1129.50" stroke="#000" stroke-width="2.2"/>
<line x1="1216.67" y1="1118.30" x2="1216.67" y2="1129.50" stroke="#000" stroke-width="2.2"/>
<line x1="1258.61" y1="1118.30" x2="1258.61" y2="1129.50" stroke="#000" stroke-width="2.2"/>
<line x1="1300.55" y1="1118.30" x2="1300.55" y2="1129.50" stroke="#000" stroke-width="2.2"/>
<line x1="1341.14" y1="1118.30" x2="1341.14" y2="1129.50" stroke="#000" stroke-width="2.2"/>
<line x1="1383.09" y1="1118.30" x2="1383.09" y2="1129.50" stroke="#000" stroke-width="2.2"/>
<line x1="1423.67" y1="1118.30" x2="1423.67" y2="1129.50" stroke="#000" stroke-width="2.2"/>
<line x1="1465.62" y1="1118.30" x2="1465.62" y2="1129.50" stroke="#000" stroke-width="2.2"/>
<line x1="1063.78" y1="1118.30" x2="1063.78" y2="1124.10" stroke="#000" stroke-width="2.0"/>
<line x1="1077.31" y1="1118.30" x2="1077.31" y2="1124.10" stroke="#000" stroke-width="2.0"/>
<line x1="1105.72" y1="1118.30" x2="1105.72" y2="1124.10" stroke="#000" stroke-width="2.0"/>
<line x1="1119.25" y1="1118.30" x2="1119.25" y2="1124.10" stroke="#000" stroke-width="2.0"/>
<line x1="1146.31" y1="1118.30" x2="1146.31" y2="1124.10" stroke="#000" stroke-width="2.0"/>
<line x1="1159.84" y1="1118.30" x2="1159.84" y2="1124.10" stroke="#000" stroke-width="2.0"/>
<line x1="1188.25" y1="1118.30" x2="1188.25" y2="1124.10" stroke="#000" stroke-width="2.0"/>
<line x1="1201.78" y1="1118.30" x2="1201.78" y2="1124.10" stroke="#000" stroke-width="2.0"/>
<line x1="1228.84" y1="1118.30" x2="1228.84" y2="1124.10" stroke="#000" stroke-width="2.0"/>
<line x1="1242.37" y1="1118.30" x2="1242.37" y2="1124.10" stroke="#000" stroke-width="2.0"/>
<line x1="1270.79" y1="1118.30" x2="1270.79" y2="1124.10" stroke="#000" stroke-width="2.0"/>
<line x1="1284.32" y1="1118.30" x2="1284.32" y2="1124.10" stroke="#000" stroke-width="2.0"/>
<line x1="1312.73" y1="1118.30" x2="1312.73" y2="1124.10" stroke="#000" stroke-width="2.0"/>
<line x1="1326.26" y1="1118.30" x2="1326.26" y2="1124.10" stroke="#000" stroke-width="2.0"/>
<line x1="1353.32" y1="1118.30" x2="1353.32" y2="1124.10" stroke="#000" stroke-width="2.0"/>
<line x1="1366.85" y1="1118.30" x2="1366.85" y2="1124.10" stroke="#000" stroke-width="2.0"/>
<line x1="1395.26" y1="1118.30" x2="1395.26" y2="1124.10" stroke="#000" stroke-width="2.0"/>
<line x1="1408.79" y1="1118.30" x2="1408.79" y2="1124.10" stroke="#000" stroke-width="2.0"/>
<line x1="1435.85" y1="1118.30" x2="1435.85" y2="1124.10" stroke="#000" stroke-width="2.0"/>
<line x1="1449.38" y1="1118.30" x2="1449.38" y2="1124.10" stroke="#000" stroke-width="2.0"/>
<text transform="translate(1043.06,1166.60) rotate(-45)" font-size="19.30" fill="#000">Mar</text>
<text transform="translate(1083.94,1165.10) rotate(-45)" font-size="19.30" fill="#000">Apr</text>
<text transform="translate(1124.72,1168.72) rotate(-45)" font-size="19.30" fill="#000">May</text>
<text transform="translate(1168.29,1161.10) rotate(-45)" font-size="19.30" fill="#000">Jun</text>
<text transform="translate(1210.38,1161.60) rotate(-45)" font-size="19.30" fill="#000">Jul</text>
<text transform="translate(1246.63,1167.22) rotate(-45)" font-size="19.30" fill="#000">Aug</text>
<text transform="translate(1291.95,1162.47) rotate(-45)" font-size="19.30" fill="#000">Sep</text>
<text transform="translate(1332.48,1163.22) rotate(-45)" font-size="19.30" fill="#000">Oct</text>
<text transform="translate(1374.99,1167.22) rotate(-45)" font-size="19.30" fill="#000">Nov</text>
<text transform="translate(1415.20,1165.22) rotate(-45)" font-size="19.30" fill="#000">Dec</text>
<text transform="translate(1458.21,1160.35) rotate(-45)" font-size="19.30" fill="#000">Jan</text>
<line x1="1019.60" y1="1118.30" x2="1030.20" y2="1118.30" stroke="#000" stroke-width="2.1"/>
<text stroke="#fff" stroke-width="0.2" transform="translate(1003.18,1128.30) scale(0.94,1)" font-size="29.04">0</text>
<line x1="1019.60" y1="999.90" x2="1030.20" y2="999.90" stroke="#000" stroke-width="2.1"/>
<text stroke="#fff" stroke-width="0.2" transform="translate(989.53,1009.90) scale(0.94,1)" font-size="29.04">20</text>
<line x1="1019.60" y1="881.50" x2="1030.20" y2="881.50" stroke="#000" stroke-width="2.1"/>
<text stroke="#fff" stroke-width="0.2" transform="translate(989.53,891.50) scale(0.94,1)" font-size="29.04">40</text>
<text stroke="#fff" stroke-width="0.32" transform="translate(981.23,1010.32) rotate(-90) scale(1.0086,1)" font-size="36.88" fill="#000">Deaths</text>
</svg>
</body></html>
